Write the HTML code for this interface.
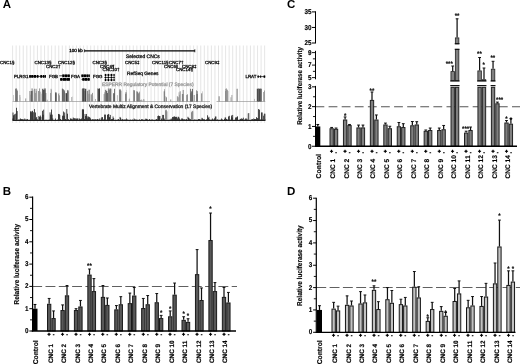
<!DOCTYPE html>
<html><head><meta charset="utf-8"><title>Figure</title>
<style>
html,body{margin:0;padding:0;background:#fff;}
body{width:520px;height:364px;overflow:hidden;font-family:"Liberation Sans",Arial,sans-serif;}
svg{display:block}
svg text{text-rendering:geometricPrecision;font-family:"Liberation Sans",Arial,sans-serif;}
</style></head><body>
<svg width="520" height="364" viewBox="0 0 520 364">
<rect x="0" y="0" width="520" height="364" fill="#ffffff"/>
<text x="2.8" y="194.9" font-size="11.5" font-weight="bold" text-anchor="start" fill="#000">B</text>
<text x="287" y="8.4" font-size="11.5" font-weight="bold" text-anchor="start" fill="#000">C</text>
<text x="287.1" y="194.8" font-size="11.5" font-weight="bold" text-anchor="start" fill="#000">D</text>
<text x="2.8" y="8.4" font-size="11.5" font-weight="bold" text-anchor="start" fill="#000">A</text>
<g id="panelA">
<line x1="12.6" y1="45.5" x2="12.6" y2="123" stroke="#d4d4d4" stroke-width="0.6"/>
<line x1="16.15" y1="45.5" x2="16.15" y2="123" stroke="#d4d4d4" stroke-width="0.6"/>
<line x1="19.7" y1="45.5" x2="19.7" y2="123" stroke="#d4d4d4" stroke-width="0.6"/>
<line x1="23.25" y1="45.5" x2="23.25" y2="123" stroke="#d4d4d4" stroke-width="0.6"/>
<line x1="26.8" y1="45.5" x2="26.8" y2="123" stroke="#d4d4d4" stroke-width="0.6"/>
<line x1="30.35" y1="45.5" x2="30.35" y2="123" stroke="#d4d4d4" stroke-width="0.6"/>
<line x1="33.9" y1="45.5" x2="33.9" y2="123" stroke="#d4d4d4" stroke-width="0.6"/>
<line x1="37.45" y1="45.5" x2="37.45" y2="123" stroke="#d4d4d4" stroke-width="0.6"/>
<line x1="41.0" y1="45.5" x2="41.0" y2="123" stroke="#d4d4d4" stroke-width="0.6"/>
<line x1="44.55" y1="45.5" x2="44.55" y2="123" stroke="#d4d4d4" stroke-width="0.6"/>
<line x1="48.1" y1="45.5" x2="48.1" y2="123" stroke="#d4d4d4" stroke-width="0.6"/>
<line x1="51.65" y1="45.5" x2="51.65" y2="123" stroke="#d4d4d4" stroke-width="0.6"/>
<line x1="55.2" y1="45.5" x2="55.2" y2="123" stroke="#d4d4d4" stroke-width="0.6"/>
<line x1="58.75" y1="45.5" x2="58.75" y2="123" stroke="#d4d4d4" stroke-width="0.6"/>
<line x1="62.3" y1="45.5" x2="62.3" y2="123" stroke="#d4d4d4" stroke-width="0.6"/>
<line x1="65.85" y1="45.5" x2="65.85" y2="123" stroke="#d4d4d4" stroke-width="0.6"/>
<line x1="69.4" y1="45.5" x2="69.4" y2="123" stroke="#d4d4d4" stroke-width="0.6"/>
<line x1="72.95" y1="45.5" x2="72.95" y2="123" stroke="#d4d4d4" stroke-width="0.6"/>
<line x1="76.5" y1="45.5" x2="76.5" y2="123" stroke="#d4d4d4" stroke-width="0.6"/>
<line x1="80.05" y1="45.5" x2="80.05" y2="123" stroke="#d4d4d4" stroke-width="0.6"/>
<line x1="83.6" y1="45.5" x2="83.6" y2="123" stroke="#d4d4d4" stroke-width="0.6"/>
<line x1="87.15" y1="45.5" x2="87.15" y2="123" stroke="#d4d4d4" stroke-width="0.6"/>
<line x1="90.7" y1="45.5" x2="90.7" y2="123" stroke="#d4d4d4" stroke-width="0.6"/>
<line x1="94.25" y1="45.5" x2="94.25" y2="123" stroke="#d4d4d4" stroke-width="0.6"/>
<line x1="97.8" y1="45.5" x2="97.8" y2="123" stroke="#d4d4d4" stroke-width="0.6"/>
<line x1="101.35" y1="45.5" x2="101.35" y2="123" stroke="#d4d4d4" stroke-width="0.6"/>
<line x1="104.9" y1="45.5" x2="104.9" y2="123" stroke="#d4d4d4" stroke-width="0.6"/>
<line x1="108.45" y1="45.5" x2="108.45" y2="123" stroke="#d4d4d4" stroke-width="0.6"/>
<line x1="112.0" y1="45.5" x2="112.0" y2="123" stroke="#d4d4d4" stroke-width="0.6"/>
<line x1="115.55" y1="45.5" x2="115.55" y2="123" stroke="#d4d4d4" stroke-width="0.6"/>
<line x1="119.1" y1="45.5" x2="119.1" y2="123" stroke="#d4d4d4" stroke-width="0.6"/>
<line x1="122.65" y1="45.5" x2="122.65" y2="123" stroke="#d4d4d4" stroke-width="0.6"/>
<line x1="126.2" y1="45.5" x2="126.2" y2="123" stroke="#d4d4d4" stroke-width="0.6"/>
<line x1="129.75" y1="45.5" x2="129.75" y2="123" stroke="#d4d4d4" stroke-width="0.6"/>
<line x1="133.3" y1="45.5" x2="133.3" y2="123" stroke="#d4d4d4" stroke-width="0.6"/>
<line x1="136.85" y1="45.5" x2="136.85" y2="123" stroke="#d4d4d4" stroke-width="0.6"/>
<line x1="140.4" y1="45.5" x2="140.4" y2="123" stroke="#d4d4d4" stroke-width="0.6"/>
<line x1="143.95" y1="45.5" x2="143.95" y2="123" stroke="#d4d4d4" stroke-width="0.6"/>
<line x1="147.5" y1="45.5" x2="147.5" y2="123" stroke="#d4d4d4" stroke-width="0.6"/>
<line x1="151.05" y1="45.5" x2="151.05" y2="123" stroke="#d4d4d4" stroke-width="0.6"/>
<line x1="154.6" y1="45.5" x2="154.6" y2="123" stroke="#d4d4d4" stroke-width="0.6"/>
<line x1="158.15" y1="45.5" x2="158.15" y2="123" stroke="#d4d4d4" stroke-width="0.6"/>
<line x1="161.7" y1="45.5" x2="161.7" y2="123" stroke="#d4d4d4" stroke-width="0.6"/>
<line x1="165.25" y1="45.5" x2="165.25" y2="123" stroke="#d4d4d4" stroke-width="0.6"/>
<line x1="168.8" y1="45.5" x2="168.8" y2="123" stroke="#d4d4d4" stroke-width="0.6"/>
<line x1="172.35" y1="45.5" x2="172.35" y2="123" stroke="#d4d4d4" stroke-width="0.6"/>
<line x1="175.9" y1="45.5" x2="175.9" y2="123" stroke="#d4d4d4" stroke-width="0.6"/>
<line x1="179.45" y1="45.5" x2="179.45" y2="123" stroke="#d4d4d4" stroke-width="0.6"/>
<line x1="183.0" y1="45.5" x2="183.0" y2="123" stroke="#d4d4d4" stroke-width="0.6"/>
<line x1="186.55" y1="45.5" x2="186.55" y2="123" stroke="#d4d4d4" stroke-width="0.6"/>
<line x1="190.1" y1="45.5" x2="190.1" y2="123" stroke="#d4d4d4" stroke-width="0.6"/>
<line x1="193.65" y1="45.5" x2="193.65" y2="123" stroke="#d4d4d4" stroke-width="0.6"/>
<line x1="197.2" y1="45.5" x2="197.2" y2="123" stroke="#d4d4d4" stroke-width="0.6"/>
<line x1="200.75" y1="45.5" x2="200.75" y2="123" stroke="#d4d4d4" stroke-width="0.6"/>
<line x1="204.3" y1="45.5" x2="204.3" y2="123" stroke="#d4d4d4" stroke-width="0.6"/>
<line x1="207.85" y1="45.5" x2="207.85" y2="123" stroke="#d4d4d4" stroke-width="0.6"/>
<line x1="211.4" y1="45.5" x2="211.4" y2="123" stroke="#d4d4d4" stroke-width="0.6"/>
<line x1="214.95" y1="45.5" x2="214.95" y2="123" stroke="#d4d4d4" stroke-width="0.6"/>
<line x1="218.5" y1="45.5" x2="218.5" y2="123" stroke="#d4d4d4" stroke-width="0.6"/>
<line x1="222.05" y1="45.5" x2="222.05" y2="123" stroke="#d4d4d4" stroke-width="0.6"/>
<line x1="225.6" y1="45.5" x2="225.6" y2="123" stroke="#d4d4d4" stroke-width="0.6"/>
<line x1="229.15" y1="45.5" x2="229.15" y2="123" stroke="#d4d4d4" stroke-width="0.6"/>
<line x1="232.7" y1="45.5" x2="232.7" y2="123" stroke="#d4d4d4" stroke-width="0.6"/>
<line x1="236.25" y1="45.5" x2="236.25" y2="123" stroke="#d4d4d4" stroke-width="0.6"/>
<line x1="239.8" y1="45.5" x2="239.8" y2="123" stroke="#d4d4d4" stroke-width="0.6"/>
<line x1="243.35" y1="45.5" x2="243.35" y2="123" stroke="#d4d4d4" stroke-width="0.6"/>
<line x1="246.9" y1="45.5" x2="246.9" y2="123" stroke="#d4d4d4" stroke-width="0.6"/>
<line x1="250.45" y1="45.5" x2="250.45" y2="123" stroke="#d4d4d4" stroke-width="0.6"/>
<line x1="254.0" y1="45.5" x2="254.0" y2="123" stroke="#d4d4d4" stroke-width="0.6"/>
<line x1="257.55" y1="45.5" x2="257.55" y2="123" stroke="#d4d4d4" stroke-width="0.6"/>
<line x1="261.1" y1="45.5" x2="261.1" y2="123" stroke="#d4d4d4" stroke-width="0.6"/>
<line x1="264.65" y1="45.5" x2="264.65" y2="123" stroke="#d4d4d4" stroke-width="0.6"/>
<text x="82.8" y="52.2" font-size="4.5" stroke="#000" stroke-width="0.3" text-anchor="end" fill="#000">100 kb</text>
<line x1="84.5" y1="50.8" x2="195" y2="50.8" stroke="#000" stroke-width="1.3"/>
<line x1="84.6" y1="49.3" x2="84.6" y2="52.3" stroke="#111" stroke-width="0.8"/>
<line x1="194.8" y1="49.3" x2="194.8" y2="52.3" stroke="#111" stroke-width="0.8"/>
<text x="126" y="57.6" font-size="4.95" stroke="#111" stroke-width="0.3" text-anchor="start" fill="#111">Selected CNCs</text>
<text x="0" y="63.6" font-size="4.4" stroke="#111" stroke-width="0.3" text-anchor="start" fill="#111">CNC1§</text>
<text x="34.5" y="63.6" font-size="4.4" stroke="#111" stroke-width="0.3" text-anchor="start" fill="#111">CNC13§</text>
<text x="58" y="63.6" font-size="4.4" stroke="#111" stroke-width="0.3" text-anchor="start" fill="#111">CNC12§</text>
<text x="92.5" y="63.6" font-size="4.4" stroke="#111" stroke-width="0.3" text-anchor="start" fill="#111">CNC3§</text>
<text x="125" y="63.6" font-size="4.4" stroke="#111" stroke-width="0.3" text-anchor="start" fill="#111">CNC5‡</text>
<text x="152" y="63.6" font-size="4.4" stroke="#111" stroke-width="0.3" text-anchor="start" fill="#111">CNC11§</text>
<text x="169" y="63.6" font-size="4.4" stroke="#111" stroke-width="0.3" text-anchor="start" fill="#111">CNC7†</text>
<text x="205" y="63.6" font-size="4.4" stroke="#111" stroke-width="0.3" text-anchor="start" fill="#111">CNC9‡</text>
<text x="46" y="67.6" font-size="4.4" stroke="#111" stroke-width="0.3" text-anchor="start" fill="#111">CNC2†</text>
<text x="100" y="67.6" font-size="4.4" stroke="#111" stroke-width="0.3" text-anchor="start" fill="#111">CNC4¶</text>
<text x="164" y="67.6" font-size="4.4" stroke="#111" stroke-width="0.3" text-anchor="start" fill="#111">CNC6‖</text>
<text x="182" y="67.6" font-size="4.4" stroke="#111" stroke-width="0.3" text-anchor="start" fill="#111">CNC8‡</text>
<text x="102.5" y="71" font-size="4.4" stroke="#111" stroke-width="0.3" text-anchor="start" fill="#111">CNC10†</text>
<text x="176" y="71" font-size="4.4" stroke="#111" stroke-width="0.3" text-anchor="start" fill="#111">CNC14¶</text>
<text x="127" y="74.8" font-size="4.8" stroke="#111" stroke-width="0.3" text-anchor="start" fill="#111">RefSeq Genes</text>
<text x="14" y="78" font-size="4.4" stroke="#111" stroke-width="0.3" text-anchor="start" fill="#111">PLRG1</text>
<text x="49" y="78" font-size="4.4" stroke="#111" stroke-width="0.3" text-anchor="start" fill="#111">FGB</text>
<text x="71" y="78" font-size="4.4" stroke="#111" stroke-width="0.3" text-anchor="start" fill="#111">FGA</text>
<text x="93" y="78" font-size="4.4" stroke="#111" stroke-width="0.3" text-anchor="start" fill="#111">FGG</text>
<text x="245.5" y="78" font-size="4.4" stroke="#111" stroke-width="0.3" text-anchor="start" fill="#111">LRAT</text>
<line x1="29.2" y1="76.4" x2="46" y2="76.4" stroke="#000" stroke-width="0.7"/>
<rect x="29.20" y="75.00" width="1.70" height="2.80" fill="#000"/>
<rect x="31.20" y="75.00" width="1.80" height="2.80" fill="#000"/>
<rect x="33.50" y="75.00" width="2.70" height="2.80" fill="#000"/>
<rect x="36.90" y="75.00" width="1.60" height="2.80" fill="#000"/>
<rect x="40.30" y="75.00" width="2.00" height="2.80" fill="#000"/>
<rect x="43.00" y="75.00" width="1.30" height="2.80" fill="#000"/>
<rect x="44.60" y="75.00" width="1.30" height="2.80" fill="#000"/>
<line x1="59.2" y1="75.8" x2="70" y2="75.8" stroke="#000" stroke-width="0.7"/>
<rect x="62.30" y="74.40" width="2.10" height="2.80" fill="#000"/>
<rect x="64.70" y="74.40" width="2.90" height="2.80" fill="#000"/>
<rect x="67.90" y="74.40" width="1.90" height="2.80" fill="#000"/>
<line x1="60" y1="79.4" x2="70" y2="79.4" stroke="#000" stroke-width="0.7"/>
<rect x="60.20" y="78.00" width="2.20" height="2.80" fill="#000"/>
<rect x="62.70" y="78.00" width="3.30" height="2.80" fill="#000"/>
<rect x="66.30" y="78.00" width="3.60" height="2.80" fill="#000"/>
<line x1="81.2" y1="75.8" x2="89.8" y2="75.8" stroke="#000" stroke-width="0.7"/>
<rect x="81.40" y="74.40" width="2.30" height="2.80" fill="#000"/>
<rect x="84.00" y="74.40" width="2.20" height="2.80" fill="#000"/>
<rect x="86.50" y="74.40" width="1.90" height="2.80" fill="#000"/>
<rect x="88.60" y="74.40" width="1.20" height="2.80" fill="#000"/>
<line x1="81.5" y1="79.4" x2="89.8" y2="79.4" stroke="#000" stroke-width="0.7"/>
<rect x="82.30" y="78.00" width="2.40" height="2.80" fill="#000"/>
<rect x="85.00" y="78.00" width="2.20" height="2.80" fill="#000"/>
<rect x="87.50" y="78.00" width="2.20" height="2.80" fill="#000"/>
<line x1="104.3" y1="75.0" x2="114.8" y2="75.0" stroke="#000" stroke-width="0.7"/>
<rect x="105.00" y="73.90" width="1.10" height="2.20" fill="#000"/>
<rect x="107.80" y="73.90" width="1.20" height="2.20" fill="#000"/>
<rect x="110.80" y="73.90" width="1.20" height="2.20" fill="#000"/>
<rect x="113.60" y="73.90" width="1.00" height="2.20" fill="#000"/>
<line x1="104.3" y1="77.5" x2="114.8" y2="77.5" stroke="#000" stroke-width="0.7"/>
<rect x="105.00" y="76.40" width="1.10" height="2.20" fill="#000"/>
<rect x="107.80" y="76.40" width="1.20" height="2.20" fill="#000"/>
<rect x="110.80" y="76.40" width="1.20" height="2.20" fill="#000"/>
<rect x="113.60" y="76.40" width="1.00" height="2.20" fill="#000"/>
<line x1="104.3" y1="80.0" x2="114.8" y2="80.0" stroke="#000" stroke-width="0.7"/>
<rect x="105.00" y="78.90" width="1.10" height="2.20" fill="#000"/>
<rect x="107.80" y="78.90" width="1.20" height="2.20" fill="#000"/>
<rect x="110.80" y="78.90" width="1.20" height="2.20" fill="#000"/>
<rect x="113.60" y="78.90" width="1.00" height="2.20" fill="#000"/>
<line x1="257.3" y1="76.6" x2="265.2" y2="76.6" stroke="#000" stroke-width="0.7"/>
<rect x="257.60" y="75.40" width="1.20" height="2.40" fill="#000"/>
<rect x="260.20" y="75.40" width="0.90" height="2.40" fill="#000"/>
<rect x="263.60" y="75.40" width="1.60" height="2.40" fill="#000"/>
<text x="102" y="85.6" font-size="4.9" stroke="#9a9a9a" stroke-width="0.3" text-anchor="start" fill="#9a9a9a">ESPERR Regulatory Potential (7 Species)</text>
<text x="89" y="107.8" font-size="4.9" stroke="#222" stroke-width="0.3" text-anchor="start" fill="#222">Vertebrate Multiz Alignment &amp; Conservation (17 Species)</text>
<line x1="12.6" y1="101.5" x2="210" y2="101.5" stroke="#8a8a8a" stroke-width="0.6"/>
<line x1="216.5" y1="101.5" x2="265.3" y2="101.5" stroke="#8a8a8a" stroke-width="0.6"/>
<rect x="13.10" y="94.95" width="0.70" height="6.55" fill="#bebebe"/>
<rect x="13.80" y="94.95" width="0.20" height="6.55" fill="#b6b6b6"/>
<rect x="15.25" y="88.79" width="0.50" height="12.71" fill="#333333"/>
<rect x="15.75" y="88.40" width="0.90" height="13.10" fill="#505050"/>
<rect x="16.65" y="89.71" width="0.70" height="11.79" fill="#4f4f4f"/>
<rect x="17.35" y="91.02" width="0.40" height="10.48" fill="#3b3b3b"/>
<rect x="19.40" y="94.95" width="0.90" height="6.55" fill="#9b9b9b"/>
<rect x="20.30" y="97.24" width="0.30" height="4.26" fill="#a4a4a4"/>
<rect x="25.00" y="98.88" width="0.50" height="2.62" fill="#8d8d8d"/>
<rect x="25.50" y="98.22" width="0.50" height="3.27" fill="#9d9d9d"/>
<rect x="26.00" y="98.32" width="0.20" height="3.18" fill="#929292"/>
<rect x="29.40" y="91.02" width="0.90" height="10.48" fill="#8e8e8e"/>
<rect x="30.30" y="94.69" width="0.50" height="6.81" fill="#999999"/>
<rect x="30.80" y="91.02" width="0.90" height="10.48" fill="#3b3b3b"/>
<rect x="31.70" y="88.40" width="0.70" height="13.10" fill="#404040"/>
<rect x="32.40" y="91.02" width="0.50" height="10.48" fill="#595959"/>
<rect x="32.90" y="89.71" width="0.20" height="11.79" fill="#393939"/>
<rect x="34.00" y="88.79" width="0.70" height="12.71" fill="#7b7b7b"/>
<rect x="34.70" y="88.79" width="0.70" height="12.71" fill="#818181"/>
<rect x="35.40" y="92.98" width="0.50" height="8.52" fill="#6f6f6f"/>
<rect x="35.90" y="91.02" width="0.50" height="10.48" fill="#818181"/>
<rect x="36.40" y="88.79" width="0.50" height="12.71" fill="#717171"/>
<rect x="38.10" y="91.02" width="0.70" height="10.48" fill="#757575"/>
<rect x="38.80" y="91.02" width="0.50" height="10.48" fill="#878787"/>
<rect x="39.30" y="88.40" width="0.70" height="13.10" fill="#767676"/>
<rect x="40.40" y="91.67" width="0.70" height="9.82" fill="#9b9b9b"/>
<rect x="41.10" y="93.64" width="0.50" height="7.86" fill="#a4a4a4"/>
<rect x="42.20" y="88.79" width="0.70" height="12.71" fill="#2c2c2c"/>
<rect x="42.90" y="89.71" width="0.90" height="11.79" fill="#333333"/>
<rect x="43.80" y="88.40" width="0.70" height="13.10" fill="#242424"/>
<rect x="44.50" y="89.71" width="0.70" height="11.79" fill="#2c2c2c"/>
<rect x="45.20" y="88.40" width="0.50" height="13.10" fill="#2a2a2a"/>
<rect x="45.70" y="92.98" width="0.50" height="8.52" fill="#333333"/>
<rect x="46.80" y="99.73" width="0.80" height="1.77" fill="#969696"/>
<rect x="50.00" y="92.98" width="0.70" height="8.52" fill="#7f7f7f"/>
<rect x="50.70" y="88.79" width="0.70" height="12.71" fill="#868686"/>
<rect x="51.40" y="89.71" width="0.50" height="11.79" fill="#8a8a8a"/>
<rect x="55.00" y="92.33" width="0.70" height="9.17" fill="#363636"/>
<rect x="55.70" y="93.25" width="0.70" height="8.25" fill="#2d2d2d"/>
<rect x="56.40" y="92.33" width="0.50" height="9.17" fill="#535353"/>
<rect x="58.00" y="93.95" width="0.70" height="7.55" fill="#8c8c8c"/>
<rect x="58.70" y="93.01" width="0.50" height="8.49" fill="#787878"/>
<rect x="59.20" y="95.37" width="0.70" height="6.13" fill="#878787"/>
<rect x="59.90" y="95.37" width="0.10" height="6.13" fill="#787878"/>
<rect x="61.90" y="88.66" width="0.50" height="12.84" fill="#4e4e4e"/>
<rect x="62.40" y="88.66" width="0.50" height="12.84" fill="#2e2e2e"/>
<rect x="62.90" y="89.95" width="0.50" height="11.55" fill="#252525"/>
<rect x="63.40" y="89.05" width="0.50" height="12.45" fill="#434343"/>
<rect x="63.90" y="89.95" width="0.50" height="11.55" fill="#353535"/>
<rect x="64.40" y="91.23" width="0.60" height="10.27" fill="#414141"/>
<rect x="65.60" y="93.16" width="0.50" height="8.34" fill="#232323"/>
<rect x="66.10" y="93.16" width="0.90" height="8.34" fill="#2d2d2d"/>
<rect x="67.00" y="89.95" width="0.50" height="11.55" fill="#212121"/>
<rect x="67.50" y="91.23" width="0.90" height="10.27" fill="#3d3d3d"/>
<rect x="68.40" y="89.95" width="0.35" height="11.55" fill="#4d4d4d"/>
<rect x="71.20" y="97.02" width="0.90" height="4.48" fill="#b0b0b0"/>
<rect x="72.10" y="96.52" width="0.40" height="4.98" fill="#a7a7a7"/>
<rect x="81.90" y="88.79" width="0.50" height="12.71" fill="#323232"/>
<rect x="82.40" y="88.40" width="0.50" height="13.10" fill="#333333"/>
<rect x="82.90" y="88.40" width="0.90" height="13.10" fill="#1e1e1e"/>
<rect x="83.80" y="88.40" width="0.90" height="13.10" fill="#4f4f4f"/>
<rect x="84.70" y="91.02" width="0.50" height="10.48" fill="#3e3e3e"/>
<rect x="85.20" y="88.79" width="0.90" height="12.71" fill="#1e1e1e"/>
<rect x="86.10" y="88.79" width="0.15" height="12.71" fill="#383838"/>
<rect x="86.90" y="90.89" width="0.50" height="10.61" fill="#5b5b5b"/>
<rect x="87.40" y="90.89" width="0.70" height="10.61" fill="#6f6f6f"/>
<rect x="88.10" y="89.71" width="0.50" height="11.79" fill="#7e7e7e"/>
<rect x="88.60" y="93.84" width="0.70" height="7.66" fill="#787878"/>
<rect x="89.30" y="89.71" width="0.70" height="11.79" fill="#6e6e6e"/>
<rect x="90.60" y="94.37" width="0.50" height="7.13" fill="#9f9f9f"/>
<rect x="91.10" y="94.37" width="0.90" height="7.13" fill="#8f8f8f"/>
<rect x="92.00" y="92.86" width="0.90" height="8.64" fill="#8e8e8e"/>
<rect x="92.90" y="95.71" width="0.20" height="5.79" fill="#919191"/>
<rect x="95.00" y="98.96" width="0.60" height="2.54" fill="#838383"/>
<rect x="97.50" y="88.40" width="0.70" height="13.10" fill="#353535"/>
<rect x="98.20" y="88.79" width="0.90" height="12.71" fill="#303030"/>
<rect x="99.10" y="88.40" width="0.90" height="13.10" fill="#262626"/>
<rect x="103.75" y="94.01" width="0.70" height="7.49" fill="#6e6e6e"/>
<rect x="104.45" y="92.28" width="0.50" height="9.22" fill="#7a7a7a"/>
<rect x="104.95" y="89.97" width="0.65" height="11.53" fill="#686868"/>
<rect x="105.60" y="89.71" width="0.70" height="11.79" fill="#595959"/>
<rect x="106.30" y="91.02" width="0.90" height="10.48" fill="#373737"/>
<rect x="107.20" y="92.98" width="0.70" height="8.52" fill="#353535"/>
<rect x="107.90" y="88.40" width="0.70" height="13.10" fill="#5b5b5b"/>
<rect x="108.60" y="89.71" width="0.50" height="11.79" fill="#5c5c5c"/>
<rect x="109.10" y="89.71" width="0.50" height="11.79" fill="#474747"/>
<rect x="109.60" y="88.40" width="0.90" height="13.10" fill="#4e4e4e"/>
<rect x="110.50" y="88.79" width="0.75" height="12.71" fill="#3f3f3f"/>
<rect x="113.10" y="93.24" width="0.50" height="8.26" fill="#4c4c4c"/>
<rect x="113.60" y="93.24" width="0.70" height="8.26" fill="#292929"/>
<rect x="114.30" y="88.79" width="0.70" height="12.71" fill="#3b3b3b"/>
<rect x="116.90" y="95.15" width="0.90" height="6.35" fill="#bababa"/>
<rect x="117.80" y="95.61" width="0.20" height="5.89" fill="#b2b2b2"/>
<rect x="119.40" y="89.45" width="0.90" height="12.05" fill="#373737"/>
<rect x="120.30" y="89.45" width="0.50" height="12.05" fill="#5b5b5b"/>
<rect x="120.80" y="90.65" width="0.45" height="10.85" fill="#323232"/>
<rect x="125.00" y="92.28" width="0.50" height="9.22" fill="#626262"/>
<rect x="125.50" y="94.01" width="0.70" height="7.49" fill="#5d5d5d"/>
<rect x="126.20" y="92.28" width="0.50" height="9.22" fill="#6d6d6d"/>
<rect x="126.70" y="89.97" width="0.20" height="11.53" fill="#636363"/>
<rect x="128.80" y="99.12" width="0.90" height="2.38" fill="#9c9c9c"/>
<rect x="129.70" y="97.83" width="0.30" height="3.67" fill="#929292"/>
<rect x="133.10" y="89.97" width="0.50" height="11.53" fill="#818181"/>
<rect x="133.60" y="90.32" width="0.50" height="11.18" fill="#6e6e6e"/>
<rect x="134.10" y="90.32" width="0.90" height="11.18" fill="#787878"/>
<rect x="136.25" y="91.28" width="0.70" height="10.22" fill="#8a8a8a"/>
<rect x="136.95" y="91.59" width="0.90" height="9.91" fill="#6b6b6b"/>
<rect x="137.85" y="93.33" width="0.90" height="8.17" fill="#6e6e6e"/>
<rect x="138.75" y="92.30" width="0.90" height="9.20" fill="#6e6e6e"/>
<rect x="139.65" y="91.28" width="0.35" height="10.22" fill="#787878"/>
<rect x="140.00" y="100.03" width="0.90" height="1.47" fill="#9e9e9e"/>
<rect x="140.90" y="99.67" width="0.70" height="1.83" fill="#8c8c8c"/>
<rect x="141.60" y="99.67" width="0.50" height="1.83" fill="#9b9b9b"/>
<rect x="142.10" y="100.31" width="0.40" height="1.19" fill="#9b9b9b"/>
<rect x="143.20" y="98.96" width="0.50" height="2.54" fill="#8a8a8a"/>
<rect x="143.70" y="99.40" width="0.70" height="2.10" fill="#909090"/>
<rect x="163.75" y="91.33" width="0.50" height="10.17" fill="#595959"/>
<rect x="164.25" y="89.17" width="0.50" height="12.33" fill="#5a5a5a"/>
<rect x="164.75" y="91.33" width="0.25" height="10.17" fill="#454545"/>
<rect x="165.60" y="96.26" width="0.50" height="5.24" fill="#7c7c7c"/>
<rect x="166.10" y="97.31" width="0.80" height="4.19" fill="#767676"/>
<rect x="170.00" y="99.80" width="0.50" height="1.70" fill="#969696"/>
<rect x="170.50" y="99.40" width="0.70" height="2.10" fill="#868686"/>
<rect x="176.90" y="96.26" width="0.90" height="5.24" fill="#8a8a8a"/>
<rect x="177.80" y="97.31" width="0.70" height="4.19" fill="#848484"/>
<rect x="178.50" y="96.78" width="0.20" height="4.72" fill="#9b9b9b"/>
<rect x="178.75" y="92.30" width="0.50" height="9.20" fill="#7c7c7c"/>
<rect x="179.25" y="94.86" width="0.50" height="6.64" fill="#838383"/>
<rect x="179.75" y="91.28" width="0.50" height="10.22" fill="#737373"/>
<rect x="180.25" y="91.28" width="0.35" height="10.22" fill="#6a6a6a"/>
<rect x="181.90" y="94.01" width="0.90" height="7.49" fill="#747474"/>
<rect x="182.80" y="89.97" width="0.70" height="11.53" fill="#5c5c5c"/>
<rect x="183.50" y="94.01" width="0.25" height="7.49" fill="#5d5d5d"/>
<rect x="186.25" y="95.02" width="0.70" height="6.48" fill="#868686"/>
<rect x="186.95" y="94.30" width="0.90" height="7.21" fill="#868686"/>
<rect x="187.85" y="95.74" width="0.15" height="5.76" fill="#7d7d7d"/>
<rect x="190.00" y="88.79" width="0.70" height="12.71" fill="#4a4a4a"/>
<rect x="190.70" y="93.24" width="0.50" height="8.26" fill="#494949"/>
<rect x="191.20" y="91.33" width="0.70" height="10.17" fill="#444444"/>
<rect x="191.90" y="88.79" width="0.90" height="12.71" fill="#484848"/>
<rect x="192.80" y="91.33" width="0.20" height="10.17" fill="#4d4d4d"/>
<rect x="193.70" y="94.95" width="0.50" height="6.55" fill="#818181"/>
<rect x="194.20" y="94.95" width="0.50" height="6.55" fill="#9c9c9c"/>
<rect x="194.70" y="94.95" width="0.30" height="6.55" fill="#838383"/>
<rect x="196.25" y="90.32" width="0.50" height="11.18" fill="#353535"/>
<rect x="196.75" y="94.01" width="0.70" height="7.49" fill="#323232"/>
<rect x="197.45" y="91.12" width="0.55" height="10.38" fill="#545454"/>
<rect x="201.25" y="93.33" width="0.90" height="8.17" fill="#7a7a7a"/>
<rect x="202.15" y="91.28" width="0.35" height="10.22" fill="#828282"/>
<rect x="218.40" y="96.26" width="0.90" height="5.24" fill="#9d9d9d"/>
<rect x="219.30" y="96.42" width="0.50" height="5.08" fill="#8f8f8f"/>
<rect x="219.80" y="96.26" width="0.20" height="5.24" fill="#939393"/>
<rect x="225.00" y="91.02" width="0.50" height="10.48" fill="#6d6d6d"/>
<rect x="225.50" y="88.79" width="0.50" height="12.71" fill="#6c6c6c"/>
<rect x="226.00" y="88.40" width="0.70" height="13.10" fill="#7f7f7f"/>
<rect x="226.70" y="89.71" width="0.90" height="11.79" fill="#6a6a6a"/>
<rect x="227.60" y="91.02" width="0.70" height="10.48" fill="#878787"/>
<rect x="230.50" y="97.24" width="0.90" height="4.26" fill="#a2a2a2"/>
<rect x="231.40" y="94.95" width="0.50" height="6.55" fill="#a1a1a1"/>
<rect x="231.90" y="94.95" width="0.40" height="6.55" fill="#8f8f8f"/>
<rect x="236.60" y="88.79" width="0.90" height="12.71" fill="#787878"/>
<rect x="237.50" y="88.79" width="0.30" height="12.71" fill="#7c7c7c"/>
<rect x="254.20" y="98.88" width="0.60" height="2.62" fill="#979797"/>
<rect x="256.80" y="88.70" width="4.90" height="12.80" fill="#4a4a4a"/>
<rect x="258.00" y="88.70" width="0.80" height="12.80" fill="#6a6a6a"/>
<rect x="260.00" y="88.70" width="0.60" height="12.80" fill="#707070"/>
<rect x="263.00" y="92.00" width="0.80" height="9.50" fill="#999"/>
<rect x="264.00" y="90.50" width="0.80" height="11.00" fill="#888"/>
<rect x="12.60" y="118.50" width="0.70" height="1.80" fill="#000"/>
<rect x="13.30" y="115.25" width="0.70" height="5.05" fill="#000000"/>
<rect x="14.00" y="114.36" width="0.70" height="5.94" fill="#000000"/>
<rect x="14.70" y="119.90" width="0.70" height="0.40" fill="#000"/>
<rect x="15.40" y="113.70" width="0.70" height="6.60" fill="#000000"/>
<rect x="16.10" y="107.76" width="0.70" height="12.54" fill="#000000"/>
<rect x="16.80" y="111.06" width="0.70" height="9.24" fill="#000000"/>
<rect x="17.50" y="119.80" width="0.70" height="0.50" fill="#000"/>
<rect x="18.20" y="119.50" width="0.70" height="0.80" fill="#000"/>
<rect x="18.90" y="119.90" width="0.70" height="0.40" fill="#000"/>
<rect x="19.60" y="119.00" width="0.70" height="1.30" fill="#000"/>
<rect x="20.30" y="118.50" width="0.70" height="1.80" fill="#000"/>
<rect x="21.00" y="119.00" width="0.70" height="1.30" fill="#000"/>
<rect x="21.70" y="119.50" width="0.70" height="0.80" fill="#000"/>
<rect x="22.40" y="119.00" width="0.70" height="1.30" fill="#000"/>
<rect x="23.10" y="119.50" width="0.70" height="0.80" fill="#000"/>
<rect x="23.80" y="119.30" width="0.70" height="1.00" fill="#000"/>
<rect x="24.50" y="118.50" width="0.70" height="1.80" fill="#000"/>
<rect x="25.20" y="119.50" width="0.70" height="0.80" fill="#000"/>
<rect x="25.90" y="119.30" width="0.70" height="1.00" fill="#000"/>
<rect x="26.60" y="119.70" width="0.70" height="0.60" fill="#000"/>
<rect x="27.30" y="119.00" width="0.70" height="1.30" fill="#000"/>
<rect x="28.00" y="119.80" width="0.70" height="0.50" fill="#000"/>
<rect x="28.70" y="119.80" width="0.70" height="0.50" fill="#000"/>
<rect x="29.40" y="119.70" width="0.70" height="0.60" fill="#000"/>
<rect x="30.10" y="111.27" width="0.70" height="9.03" fill="#000000"/>
<rect x="30.80" y="112.22" width="0.70" height="8.08" fill="#000000"/>
<rect x="31.50" y="111.27" width="0.70" height="9.03" fill="#000000"/>
<rect x="32.20" y="110.80" width="0.70" height="9.50" fill="#000000"/>
<rect x="32.90" y="112.22" width="0.70" height="8.08" fill="#000000"/>
<rect x="33.60" y="119.50" width="0.70" height="0.80" fill="#000"/>
<rect x="34.30" y="109.08" width="0.70" height="11.22" fill="#000000"/>
<rect x="35.00" y="112.45" width="0.70" height="7.85" fill="#000000"/>
<rect x="35.70" y="118.32" width="0.70" height="1.98" fill="#000000"/>
<rect x="36.40" y="116.93" width="0.70" height="3.37" fill="#000000"/>
<rect x="37.10" y="119.30" width="0.70" height="1.00" fill="#000"/>
<rect x="37.80" y="119.80" width="0.70" height="0.50" fill="#000"/>
<rect x="38.50" y="116.04" width="0.70" height="4.26" fill="#000000"/>
<rect x="39.20" y="116.79" width="0.70" height="3.51" fill="#000000"/>
<rect x="39.90" y="115.53" width="0.70" height="4.77" fill="#000000"/>
<rect x="40.60" y="116.79" width="0.70" height="3.51" fill="#000000"/>
<rect x="41.30" y="119.90" width="0.70" height="0.40" fill="#000"/>
<rect x="42.00" y="110.76" width="0.70" height="9.54" fill="#000000"/>
<rect x="42.70" y="114.69" width="0.70" height="5.61" fill="#000000"/>
<rect x="43.40" y="109.64" width="0.70" height="10.66" fill="#000000"/>
<rect x="44.10" y="119.90" width="0.70" height="0.40" fill="#000"/>
<rect x="44.80" y="119.70" width="0.70" height="0.60" fill="#000"/>
<rect x="45.50" y="119.80" width="0.70" height="0.50" fill="#000"/>
<rect x="46.20" y="119.70" width="0.70" height="0.60" fill="#000"/>
<rect x="46.90" y="119.80" width="0.70" height="0.50" fill="#000"/>
<rect x="47.60" y="119.90" width="0.70" height="0.40" fill="#000"/>
<rect x="48.30" y="119.70" width="0.70" height="0.60" fill="#000"/>
<rect x="49.00" y="119.50" width="0.70" height="0.80" fill="#000"/>
<rect x="49.70" y="112.35" width="0.70" height="7.95" fill="#000000"/>
<rect x="50.40" y="114.62" width="0.70" height="5.68" fill="#000000"/>
<rect x="51.10" y="109.52" width="0.70" height="10.78" fill="#000000"/>
<rect x="51.80" y="114.62" width="0.70" height="5.68" fill="#000000"/>
<rect x="52.50" y="118.50" width="0.70" height="1.80" fill="#000"/>
<rect x="53.20" y="119.90" width="0.70" height="0.40" fill="#000"/>
<rect x="53.90" y="119.90" width="0.70" height="0.40" fill="#000"/>
<rect x="54.60" y="119.70" width="0.70" height="0.60" fill="#000"/>
<rect x="55.30" y="118.50" width="0.70" height="1.80" fill="#000"/>
<rect x="56.00" y="119.90" width="0.70" height="0.40" fill="#000"/>
<rect x="56.70" y="119.80" width="0.70" height="0.50" fill="#000"/>
<rect x="57.40" y="119.50" width="0.70" height="0.80" fill="#000"/>
<rect x="58.10" y="113.96" width="0.70" height="6.34" fill="#000000"/>
<rect x="58.80" y="113.96" width="0.70" height="6.34" fill="#000000"/>
<rect x="59.50" y="114.91" width="0.70" height="5.39" fill="#000000"/>
<rect x="60.20" y="119.00" width="0.70" height="1.30" fill="#000"/>
<rect x="60.90" y="119.80" width="0.70" height="0.50" fill="#000"/>
<rect x="61.60" y="119.90" width="0.70" height="0.40" fill="#000"/>
<rect x="62.30" y="115.68" width="0.70" height="4.62" fill="#000000"/>
<rect x="63.00" y="111.52" width="0.70" height="8.78" fill="#000000"/>
<rect x="63.70" y="115.68" width="0.70" height="4.62" fill="#000000"/>
<rect x="64.40" y="112.45" width="0.70" height="7.85" fill="#000000"/>
<rect x="65.10" y="119.00" width="0.70" height="1.30" fill="#000"/>
<rect x="65.80" y="119.50" width="0.70" height="0.80" fill="#000"/>
<rect x="66.50" y="109.08" width="0.70" height="11.22" fill="#000000"/>
<rect x="67.20" y="113.70" width="0.70" height="6.60" fill="#000000"/>
<rect x="67.90" y="119.00" width="0.70" height="1.30" fill="#000"/>
<rect x="68.60" y="119.80" width="0.70" height="0.50" fill="#000"/>
<rect x="69.30" y="119.90" width="0.70" height="0.40" fill="#000"/>
<rect x="70.00" y="118.50" width="0.70" height="1.80" fill="#000"/>
<rect x="70.70" y="118.50" width="0.70" height="1.80" fill="#000"/>
<rect x="71.40" y="119.00" width="0.70" height="1.30" fill="#000"/>
<rect x="72.10" y="119.30" width="0.70" height="1.00" fill="#000"/>
<rect x="72.80" y="117.53" width="0.70" height="2.77" fill="#000000"/>
<rect x="73.50" y="118.32" width="0.70" height="1.98" fill="#000000"/>
<rect x="74.20" y="118.32" width="0.70" height="1.98" fill="#000000"/>
<rect x="74.90" y="118.32" width="0.70" height="1.98" fill="#000000"/>
<rect x="75.60" y="119.30" width="0.70" height="1.00" fill="#000"/>
<rect x="76.30" y="118.50" width="0.70" height="1.80" fill="#000"/>
<rect x="77.00" y="118.50" width="0.70" height="1.80" fill="#000"/>
<rect x="77.70" y="118.50" width="0.70" height="1.80" fill="#000"/>
<rect x="78.40" y="119.90" width="0.70" height="0.40" fill="#000"/>
<rect x="79.10" y="118.50" width="0.70" height="1.80" fill="#000"/>
<rect x="79.80" y="119.00" width="0.70" height="1.30" fill="#000"/>
<rect x="80.50" y="119.30" width="0.70" height="1.00" fill="#000"/>
<rect x="81.20" y="118.50" width="0.70" height="1.80" fill="#000"/>
<rect x="81.90" y="109.52" width="0.70" height="10.78" fill="#000000"/>
<rect x="82.60" y="108.95" width="0.70" height="11.35" fill="#000000"/>
<rect x="83.30" y="109.52" width="0.70" height="10.78" fill="#000000"/>
<rect x="84.00" y="119.00" width="0.70" height="1.30" fill="#000"/>
<rect x="84.70" y="113.96" width="0.70" height="6.34" fill="#000000"/>
<rect x="85.40" y="115.86" width="0.70" height="4.44" fill="#000000"/>
<rect x="86.10" y="113.96" width="0.70" height="6.34" fill="#000000"/>
<rect x="86.80" y="116.34" width="0.70" height="3.96" fill="#000000"/>
<rect x="87.50" y="118.32" width="0.70" height="1.98" fill="#000000"/>
<rect x="88.20" y="116.54" width="0.70" height="3.76" fill="#000000"/>
<rect x="88.90" y="116.93" width="0.70" height="3.37" fill="#000000"/>
<rect x="89.60" y="117.53" width="0.70" height="2.77" fill="#000000"/>
<rect x="90.30" y="118.50" width="0.70" height="1.80" fill="#000"/>
<rect x="91.00" y="119.90" width="0.70" height="0.40" fill="#000"/>
<rect x="91.70" y="119.00" width="0.70" height="1.30" fill="#000"/>
<rect x="92.40" y="119.30" width="0.70" height="1.00" fill="#000"/>
<rect x="93.10" y="119.30" width="0.70" height="1.00" fill="#000"/>
<rect x="93.80" y="119.90" width="0.70" height="0.40" fill="#000"/>
<rect x="94.50" y="119.00" width="0.70" height="1.30" fill="#000"/>
<rect x="95.20" y="119.30" width="0.70" height="1.00" fill="#000"/>
<rect x="95.90" y="119.90" width="0.70" height="0.40" fill="#000"/>
<rect x="96.60" y="119.00" width="0.70" height="1.30" fill="#000"/>
<rect x="97.30" y="119.00" width="0.70" height="1.30" fill="#000"/>
<rect x="98.00" y="119.50" width="0.70" height="0.80" fill="#000"/>
<rect x="98.70" y="119.70" width="0.70" height="0.60" fill="#000"/>
<rect x="99.40" y="118.50" width="0.70" height="1.80" fill="#000"/>
<rect x="100.10" y="119.90" width="0.70" height="0.40" fill="#000"/>
<rect x="100.80" y="118.50" width="0.70" height="1.80" fill="#000"/>
<rect x="101.50" y="117.16" width="0.70" height="3.13" fill="#000000"/>
<rect x="102.20" y="117.16" width="0.70" height="3.13" fill="#000000"/>
<rect x="102.90" y="119.80" width="0.70" height="0.50" fill="#000"/>
<rect x="103.60" y="119.00" width="0.70" height="1.30" fill="#000"/>
<rect x="104.30" y="114.57" width="0.70" height="5.73" fill="#000000"/>
<rect x="105.00" y="114.57" width="0.70" height="5.73" fill="#000000"/>
<rect x="105.70" y="119.90" width="0.70" height="0.40" fill="#000"/>
<rect x="106.40" y="119.50" width="0.70" height="0.80" fill="#000"/>
<rect x="107.10" y="114.91" width="0.70" height="5.39" fill="#000000"/>
<rect x="107.80" y="113.96" width="0.70" height="6.34" fill="#000000"/>
<rect x="108.50" y="114.28" width="0.70" height="6.02" fill="#000000"/>
<rect x="109.20" y="117.13" width="0.70" height="3.17" fill="#000000"/>
<rect x="109.90" y="114.91" width="0.70" height="5.39" fill="#000000"/>
<rect x="110.60" y="119.70" width="0.70" height="0.60" fill="#000"/>
<rect x="111.30" y="119.00" width="0.70" height="1.30" fill="#000"/>
<rect x="112.00" y="119.00" width="0.70" height="1.30" fill="#000"/>
<rect x="112.70" y="116.49" width="0.70" height="3.81" fill="#000000"/>
<rect x="113.40" y="118.06" width="0.70" height="2.24" fill="#000000"/>
<rect x="114.10" y="119.80" width="0.70" height="0.50" fill="#000"/>
<rect x="114.80" y="119.90" width="0.70" height="0.40" fill="#000"/>
<rect x="115.50" y="119.50" width="0.70" height="0.80" fill="#000"/>
<rect x="116.20" y="119.90" width="0.70" height="0.40" fill="#000"/>
<rect x="116.90" y="119.50" width="0.70" height="0.80" fill="#000"/>
<rect x="117.60" y="119.70" width="0.70" height="0.60" fill="#000"/>
<rect x="118.30" y="119.00" width="0.70" height="1.30" fill="#000"/>
<rect x="119.00" y="119.90" width="0.70" height="0.40" fill="#000"/>
<rect x="119.70" y="116.91" width="0.70" height="3.39" fill="#000000"/>
<rect x="120.40" y="117.81" width="0.70" height="2.49" fill="#000000"/>
<rect x="121.10" y="119.70" width="0.70" height="0.60" fill="#000"/>
<rect x="121.80" y="119.00" width="0.70" height="1.30" fill="#000"/>
<rect x="122.50" y="119.30" width="0.70" height="1.00" fill="#000"/>
<rect x="123.20" y="119.70" width="0.70" height="0.60" fill="#000"/>
<rect x="123.90" y="119.50" width="0.70" height="0.80" fill="#000"/>
<rect x="124.60" y="119.50" width="0.70" height="0.80" fill="#000"/>
<rect x="125.30" y="119.50" width="0.70" height="0.80" fill="#000"/>
<rect x="126.00" y="118.50" width="0.70" height="1.80" fill="#000"/>
<rect x="126.70" y="119.90" width="0.70" height="0.40" fill="#000"/>
<rect x="127.40" y="119.30" width="0.70" height="1.00" fill="#000"/>
<rect x="128.10" y="119.80" width="0.70" height="0.50" fill="#000"/>
<rect x="128.80" y="119.70" width="0.70" height="0.60" fill="#000"/>
<rect x="129.50" y="119.90" width="0.70" height="0.40" fill="#000"/>
<rect x="130.20" y="119.50" width="0.70" height="0.80" fill="#000"/>
<rect x="130.90" y="119.90" width="0.70" height="0.40" fill="#000"/>
<rect x="131.60" y="119.70" width="0.70" height="0.60" fill="#000"/>
<rect x="132.30" y="119.50" width="0.70" height="0.80" fill="#000"/>
<rect x="133.00" y="119.90" width="0.70" height="0.40" fill="#000"/>
<rect x="133.70" y="118.50" width="0.70" height="1.80" fill="#000"/>
<rect x="134.40" y="119.30" width="0.70" height="1.00" fill="#000"/>
<rect x="135.10" y="119.50" width="0.70" height="0.80" fill="#000"/>
<rect x="135.80" y="119.70" width="0.70" height="0.60" fill="#000"/>
<rect x="136.50" y="119.50" width="0.70" height="0.80" fill="#000"/>
<rect x="137.20" y="119.80" width="0.70" height="0.50" fill="#000"/>
<rect x="137.90" y="119.80" width="0.70" height="0.50" fill="#000"/>
<rect x="138.60" y="119.90" width="0.70" height="0.40" fill="#000"/>
<rect x="139.30" y="119.30" width="0.70" height="1.00" fill="#000"/>
<rect x="140.00" y="119.90" width="0.70" height="0.40" fill="#000"/>
<rect x="140.70" y="119.80" width="0.70" height="0.50" fill="#000"/>
<rect x="141.40" y="119.00" width="0.70" height="1.30" fill="#000"/>
<rect x="142.10" y="119.30" width="0.70" height="1.00" fill="#000"/>
<rect x="142.80" y="119.70" width="0.70" height="0.60" fill="#000"/>
<rect x="143.50" y="119.70" width="0.70" height="0.60" fill="#000"/>
<rect x="144.20" y="119.80" width="0.70" height="0.50" fill="#000"/>
<rect x="144.90" y="119.30" width="0.70" height="1.00" fill="#000"/>
<rect x="145.60" y="118.50" width="0.70" height="1.80" fill="#000"/>
<rect x="146.30" y="119.00" width="0.70" height="1.30" fill="#000"/>
<rect x="147.00" y="119.30" width="0.70" height="1.00" fill="#000"/>
<rect x="147.70" y="119.70" width="0.70" height="0.60" fill="#000"/>
<rect x="148.40" y="119.90" width="0.70" height="0.40" fill="#000"/>
<rect x="149.10" y="119.00" width="0.70" height="1.30" fill="#000"/>
<rect x="149.80" y="119.70" width="0.70" height="0.60" fill="#000"/>
<rect x="150.50" y="119.80" width="0.70" height="0.50" fill="#000"/>
<rect x="151.20" y="119.50" width="0.70" height="0.80" fill="#000"/>
<rect x="151.90" y="119.50" width="0.70" height="0.80" fill="#000"/>
<rect x="152.60" y="119.50" width="0.70" height="0.80" fill="#000"/>
<rect x="153.30" y="119.90" width="0.70" height="0.40" fill="#000"/>
<rect x="154.00" y="119.80" width="0.70" height="0.50" fill="#000"/>
<rect x="154.70" y="119.90" width="0.70" height="0.40" fill="#000"/>
<rect x="155.40" y="119.50" width="0.70" height="0.80" fill="#000"/>
<rect x="156.10" y="119.00" width="0.70" height="1.30" fill="#000"/>
<rect x="156.80" y="119.50" width="0.70" height="0.80" fill="#000"/>
<rect x="157.50" y="116.04" width="0.70" height="4.26" fill="#000000"/>
<rect x="158.20" y="115.53" width="0.70" height="4.77" fill="#000000"/>
<rect x="158.90" y="116.04" width="0.70" height="4.26" fill="#000000"/>
<rect x="159.60" y="116.04" width="0.70" height="4.26" fill="#000000"/>
<rect x="160.30" y="119.90" width="0.70" height="0.40" fill="#000"/>
<rect x="161.00" y="118.50" width="0.70" height="1.80" fill="#000"/>
<rect x="161.70" y="119.70" width="0.70" height="0.60" fill="#000"/>
<rect x="162.40" y="114.91" width="0.70" height="5.39" fill="#000000"/>
<rect x="163.10" y="114.91" width="0.70" height="5.39" fill="#000000"/>
<rect x="163.80" y="118.50" width="0.70" height="1.80" fill="#000"/>
<rect x="164.50" y="119.50" width="0.70" height="0.80" fill="#000"/>
<rect x="165.20" y="110.27" width="0.70" height="10.03" fill="#666666"/>
<rect x="165.90" y="109.74" width="0.70" height="10.56" fill="#666666"/>
<rect x="166.60" y="111.32" width="0.70" height="8.98" fill="#666666"/>
<rect x="167.30" y="119.70" width="0.70" height="0.60" fill="#000"/>
<rect x="168.00" y="119.70" width="0.70" height="0.60" fill="#000"/>
<rect x="168.70" y="119.90" width="0.70" height="0.40" fill="#000"/>
<rect x="169.40" y="119.50" width="0.70" height="0.80" fill="#000"/>
<rect x="170.10" y="119.50" width="0.70" height="0.80" fill="#000"/>
<rect x="170.80" y="118.50" width="0.70" height="1.80" fill="#000"/>
<rect x="171.50" y="119.30" width="0.70" height="1.00" fill="#000"/>
<rect x="172.20" y="117.05" width="0.70" height="3.25" fill="#000000"/>
<rect x="172.90" y="117.05" width="0.70" height="3.25" fill="#000000"/>
<rect x="173.60" y="116.47" width="0.70" height="3.83" fill="#000000"/>
<rect x="174.30" y="116.47" width="0.70" height="3.83" fill="#000000"/>
<rect x="175.00" y="117.05" width="0.70" height="3.25" fill="#000000"/>
<rect x="175.70" y="116.66" width="0.70" height="3.64" fill="#000000"/>
<rect x="176.40" y="117.05" width="0.70" height="3.25" fill="#000000"/>
<rect x="177.10" y="118.39" width="0.70" height="1.91" fill="#000000"/>
<rect x="177.80" y="116.66" width="0.70" height="3.64" fill="#000000"/>
<rect x="178.50" y="117.05" width="0.70" height="3.25" fill="#000000"/>
<rect x="179.20" y="118.50" width="0.70" height="1.80" fill="#000"/>
<rect x="179.90" y="119.50" width="0.70" height="0.80" fill="#000"/>
<rect x="180.60" y="119.90" width="0.70" height="0.40" fill="#000"/>
<rect x="181.30" y="118.50" width="0.70" height="1.80" fill="#000"/>
<rect x="182.00" y="118.50" width="0.70" height="1.80" fill="#000"/>
<rect x="182.70" y="119.00" width="0.70" height="1.30" fill="#000"/>
<rect x="183.40" y="119.50" width="0.70" height="0.80" fill="#000"/>
<rect x="184.10" y="119.30" width="0.70" height="1.00" fill="#000"/>
<rect x="184.80" y="119.30" width="0.70" height="1.00" fill="#000"/>
<rect x="185.50" y="119.80" width="0.70" height="0.50" fill="#000"/>
<rect x="186.20" y="119.00" width="0.70" height="1.30" fill="#000"/>
<rect x="186.90" y="119.90" width="0.70" height="0.40" fill="#000"/>
<rect x="187.60" y="116.79" width="0.70" height="3.51" fill="#000000"/>
<rect x="188.30" y="117.79" width="0.70" height="2.51" fill="#000000"/>
<rect x="189.00" y="118.50" width="0.70" height="1.80" fill="#000"/>
<rect x="189.70" y="119.80" width="0.70" height="0.50" fill="#000"/>
<rect x="190.40" y="119.00" width="0.70" height="1.30" fill="#000"/>
<rect x="191.10" y="112.22" width="0.70" height="8.08" fill="#666666"/>
<rect x="191.80" y="110.80" width="0.70" height="9.50" fill="#666666"/>
<rect x="192.50" y="111.27" width="0.70" height="9.03" fill="#666666"/>
<rect x="193.20" y="119.80" width="0.70" height="0.50" fill="#000"/>
<rect x="193.90" y="119.50" width="0.70" height="0.80" fill="#000"/>
<rect x="194.60" y="119.50" width="0.70" height="0.80" fill="#000"/>
<rect x="195.30" y="119.70" width="0.70" height="0.60" fill="#000"/>
<rect x="196.00" y="119.70" width="0.70" height="0.60" fill="#000"/>
<rect x="196.70" y="119.70" width="0.70" height="0.60" fill="#000"/>
<rect x="197.40" y="119.70" width="0.70" height="0.60" fill="#000"/>
<rect x="198.10" y="119.00" width="0.70" height="1.30" fill="#000"/>
<rect x="198.80" y="119.00" width="0.70" height="1.30" fill="#000"/>
<rect x="199.50" y="119.00" width="0.70" height="1.30" fill="#000"/>
<rect x="200.20" y="119.70" width="0.70" height="0.60" fill="#000"/>
<rect x="200.90" y="119.50" width="0.70" height="0.80" fill="#000"/>
<rect x="201.60" y="117.79" width="0.70" height="2.51" fill="#000000"/>
<rect x="202.30" y="118.45" width="0.70" height="1.85" fill="#000000"/>
<rect x="203.00" y="119.30" width="0.70" height="1.00" fill="#000"/>
<rect x="203.70" y="119.00" width="0.70" height="1.30" fill="#000"/>
<rect x="204.40" y="119.50" width="0.70" height="0.80" fill="#000"/>
<rect x="205.10" y="119.90" width="0.70" height="0.40" fill="#000"/>
<rect x="205.80" y="119.80" width="0.70" height="0.50" fill="#000"/>
<rect x="206.50" y="119.00" width="0.70" height="1.30" fill="#000"/>
<rect x="207.20" y="115.28" width="0.70" height="5.02" fill="#000000"/>
<rect x="207.90" y="117.79" width="0.70" height="2.51" fill="#000000"/>
<rect x="208.60" y="116.79" width="0.70" height="3.51" fill="#000000"/>
<rect x="209.30" y="119.30" width="0.70" height="1.00" fill="#000"/>
<rect x="210.00" y="119.80" width="0.70" height="0.50" fill="#000"/>
<rect x="210.70" y="119.50" width="0.70" height="0.80" fill="#000"/>
<rect x="211.40" y="119.70" width="0.70" height="0.60" fill="#000"/>
<rect x="212.10" y="118.50" width="0.70" height="1.80" fill="#000"/>
<rect x="212.80" y="119.50" width="0.70" height="0.80" fill="#000"/>
<rect x="213.50" y="119.50" width="0.70" height="0.80" fill="#000"/>
<rect x="214.20" y="118.32" width="0.70" height="1.98" fill="#000000"/>
<rect x="214.90" y="116.54" width="0.70" height="3.76" fill="#000000"/>
<rect x="215.60" y="116.54" width="0.70" height="3.76" fill="#000000"/>
<rect x="216.30" y="119.70" width="0.70" height="0.60" fill="#000"/>
<rect x="217.00" y="119.30" width="0.70" height="1.00" fill="#000"/>
<rect x="217.70" y="119.90" width="0.70" height="0.40" fill="#000"/>
<rect x="218.40" y="119.70" width="0.70" height="0.60" fill="#000"/>
<rect x="219.10" y="119.80" width="0.70" height="0.50" fill="#000"/>
<rect x="219.80" y="119.70" width="0.70" height="0.60" fill="#000"/>
<rect x="220.50" y="119.70" width="0.70" height="0.60" fill="#000"/>
<rect x="221.20" y="118.50" width="0.70" height="1.80" fill="#000"/>
<rect x="221.90" y="119.30" width="0.70" height="1.00" fill="#000"/>
<rect x="222.60" y="119.80" width="0.70" height="0.50" fill="#000"/>
<rect x="223.30" y="119.90" width="0.70" height="0.40" fill="#000"/>
<rect x="224.00" y="119.00" width="0.70" height="1.30" fill="#000"/>
<rect x="224.70" y="117.53" width="0.70" height="2.77" fill="#000000"/>
<rect x="225.40" y="117.53" width="0.70" height="2.77" fill="#000000"/>
<rect x="226.10" y="119.00" width="0.70" height="1.30" fill="#000"/>
<rect x="226.80" y="119.30" width="0.70" height="1.00" fill="#000"/>
<rect x="227.50" y="119.80" width="0.70" height="0.50" fill="#000"/>
<rect x="228.20" y="116.49" width="0.70" height="3.81" fill="#000000"/>
<rect x="228.90" y="115.81" width="0.70" height="4.49" fill="#000000"/>
<rect x="229.60" y="119.50" width="0.70" height="0.80" fill="#000"/>
<rect x="230.30" y="119.70" width="0.70" height="0.60" fill="#000"/>
<rect x="231.00" y="115.48" width="0.70" height="4.82" fill="#000000"/>
<rect x="231.70" y="117.46" width="0.70" height="2.84" fill="#000000"/>
<rect x="232.40" y="114.91" width="0.70" height="5.39" fill="#000000"/>
<rect x="233.10" y="119.90" width="0.70" height="0.40" fill="#000"/>
<rect x="233.80" y="119.70" width="0.70" height="0.60" fill="#000"/>
<rect x="234.50" y="119.80" width="0.70" height="0.50" fill="#000"/>
<rect x="235.20" y="117.53" width="0.70" height="2.77" fill="#000000"/>
<rect x="235.90" y="117.53" width="0.70" height="2.77" fill="#000000"/>
<rect x="236.60" y="116.93" width="0.70" height="3.37" fill="#000000"/>
<rect x="237.30" y="116.34" width="0.70" height="3.96" fill="#000000"/>
<rect x="238.00" y="119.80" width="0.70" height="0.50" fill="#000"/>
<rect x="238.70" y="119.90" width="0.70" height="0.40" fill="#000"/>
<rect x="239.40" y="119.50" width="0.70" height="0.80" fill="#000"/>
<rect x="240.10" y="119.00" width="0.70" height="1.30" fill="#000"/>
<rect x="240.80" y="118.50" width="0.70" height="1.80" fill="#000"/>
<rect x="241.50" y="118.50" width="0.70" height="1.80" fill="#000"/>
<rect x="242.20" y="118.98" width="0.70" height="1.32" fill="#000000"/>
<rect x="242.90" y="117.66" width="0.70" height="2.64" fill="#000000"/>
<rect x="243.60" y="119.90" width="0.70" height="0.40" fill="#000"/>
<rect x="244.30" y="119.50" width="0.70" height="0.80" fill="#000"/>
<rect x="245.00" y="118.50" width="0.70" height="1.80" fill="#000"/>
<rect x="245.70" y="119.30" width="0.70" height="1.00" fill="#000"/>
<rect x="246.40" y="118.50" width="0.70" height="1.80" fill="#000"/>
<rect x="247.10" y="119.50" width="0.70" height="0.80" fill="#000"/>
<rect x="247.80" y="113.40" width="0.70" height="6.90" fill="#333333"/>
<rect x="248.50" y="113.04" width="0.70" height="7.26" fill="#333333"/>
<rect x="249.20" y="119.80" width="0.70" height="0.50" fill="#000"/>
<rect x="249.90" y="119.80" width="0.70" height="0.50" fill="#000"/>
<rect x="250.60" y="119.80" width="0.70" height="0.50" fill="#000"/>
<rect x="251.30" y="119.30" width="0.70" height="1.00" fill="#000"/>
<rect x="252.00" y="119.00" width="0.70" height="1.30" fill="#000"/>
<rect x="252.70" y="119.90" width="0.70" height="0.40" fill="#000"/>
<rect x="253.40" y="118.50" width="0.70" height="1.80" fill="#000"/>
<rect x="254.10" y="119.00" width="0.70" height="1.30" fill="#000"/>
<rect x="254.80" y="119.00" width="0.70" height="1.30" fill="#000"/>
<rect x="255.50" y="119.00" width="0.70" height="1.30" fill="#000"/>
<rect x="256.20" y="117.16" width="0.70" height="3.14" fill="#000000"/>
<rect x="256.90" y="118.06" width="0.70" height="2.24" fill="#000000"/>
<rect x="257.60" y="118.50" width="0.70" height="1.80" fill="#000"/>
<rect x="258.30" y="109.08" width="0.70" height="11.22" fill="#000000"/>
<rect x="259.00" y="109.64" width="0.70" height="10.66" fill="#000000"/>
<rect x="259.70" y="119.80" width="0.70" height="0.50" fill="#000"/>
<rect x="260.40" y="119.30" width="0.70" height="1.00" fill="#000"/>
<rect x="261.10" y="112.45" width="0.70" height="7.85" fill="#000000"/>
<rect x="261.80" y="112.45" width="0.70" height="7.85" fill="#000000"/>
<rect x="262.50" y="119.30" width="0.70" height="1.00" fill="#000"/>
<rect x="263.20" y="115.68" width="0.70" height="4.62" fill="#191919"/>
<rect x="263.90" y="113.70" width="0.70" height="6.60" fill="#191919"/>
<rect x="264.60" y="113.70" width="0.70" height="6.60" fill="#191919"/>
<rect x="265.30" y="119.70" width="0.70" height="0.60" fill="#000"/>
<line x1="12.6" y1="120.5" x2="265.3" y2="120.5" stroke="#111" stroke-width="0.9"/>
<line x1="13" y1="112.5" x2="13" y2="120.5" stroke="#111" stroke-width="0.8"/>
</g>
<g id="panelB">
<line x1="32.2" y1="286.5" x2="237" y2="286.5" stroke="#606060" stroke-width="1.1" stroke-dasharray="9.9 3.4"/>
<rect x="32.50" y="308.70" width="5.00" height="22.30" fill="#000"/>
<line x1="35.0" y1="308.7" x2="35.0" y2="304.463" stroke="#000" stroke-width="1.25"/>
<line x1="33.6" y1="304.463" x2="36.4" y2="304.463" stroke="#000" stroke-width="1.0"/>
<line x1="49.15" y1="303.794" x2="49.15" y2="298.442" stroke="#111" stroke-width="1.25"/>
<line x1="47.75" y1="298.442" x2="50.55" y2="298.442" stroke="#111" stroke-width="1.0"/>
<rect x="47.50" y="304.29" width="3.30" height="26.71" fill="#585858" stroke="#1a1a1a" stroke-width="1.0"/>
<line x1="53.55" y1="318.066" x2="53.55" y2="310.93" stroke="#111" stroke-width="1.25"/>
<line x1="52.15" y1="310.93" x2="54.949999999999996" y2="310.93" stroke="#111" stroke-width="1.0"/>
<rect x="51.90" y="318.57" width="3.30" height="12.43" fill="#585858" stroke="#1a1a1a" stroke-width="1.0"/>
<text x="49.05" y="335.9" font-size="5.2" font-weight="bold" stroke="#000" stroke-width="0.15" text-anchor="middle" fill="#000" style="stroke-width:0.55">+</text>
<text x="53.650000000000006" y="336.2" font-size="5.0" font-weight="bold" stroke="#000" stroke-width="0.15" text-anchor="middle" fill="#000" style="stroke-width:0.3">-</text>
<text x="0" y="0" font-size="6.5" font-weight="bold" stroke="#000" stroke-width="0.15" text-anchor="start" fill="#000" transform="translate(52.6 363) rotate(-90) scale(0.98 1)">CNC 1</text>
<line x1="62.6" y1="310.038" x2="62.6" y2="304.909" stroke="#111" stroke-width="1.25"/>
<line x1="61.2" y1="304.909" x2="64.0" y2="304.909" stroke="#111" stroke-width="1.0"/>
<rect x="60.95" y="310.54" width="3.30" height="20.46" fill="#585858" stroke="#1a1a1a" stroke-width="1.0"/>
<line x1="67.00000000000001" y1="295.32" x2="67.00000000000001" y2="285.508" stroke="#111" stroke-width="1.25"/>
<line x1="65.60000000000001" y1="285.508" x2="68.40000000000002" y2="285.508" stroke="#111" stroke-width="1.0"/>
<rect x="65.35" y="295.82" width="3.30" height="35.18" fill="#585858" stroke="#1a1a1a" stroke-width="1.0"/>
<text x="62.5" y="335.9" font-size="5.2" font-weight="bold" stroke="#000" stroke-width="0.15" text-anchor="middle" fill="#000" style="stroke-width:0.55">+</text>
<text x="67.10000000000001" y="336.2" font-size="5.0" font-weight="bold" stroke="#000" stroke-width="0.15" text-anchor="middle" fill="#000" style="stroke-width:0.3">-</text>
<text x="0" y="0" font-size="6.5" font-weight="bold" stroke="#000" stroke-width="0.15" text-anchor="start" fill="#000" transform="translate(66.05 363) rotate(-90) scale(0.98 1)">CNC 2</text>
<line x1="76.05000000000001" y1="310.038" x2="76.05000000000001" y2="308.7" stroke="#111" stroke-width="1.25"/>
<line x1="74.65" y1="308.7" x2="77.45000000000002" y2="308.7" stroke="#111" stroke-width="1.0"/>
<rect x="74.40" y="310.54" width="3.30" height="20.46" fill="#585858" stroke="#1a1a1a" stroke-width="1.0"/>
<line x1="80.45000000000002" y1="306.47" x2="80.45000000000002" y2="300.449" stroke="#111" stroke-width="1.25"/>
<line x1="79.05000000000001" y1="300.449" x2="81.85000000000002" y2="300.449" stroke="#111" stroke-width="1.0"/>
<rect x="78.80" y="306.97" width="3.30" height="24.03" fill="#585858" stroke="#1a1a1a" stroke-width="1.0"/>
<text x="75.95000000000002" y="335.9" font-size="5.2" font-weight="bold" stroke="#000" stroke-width="0.15" text-anchor="middle" fill="#000" style="stroke-width:0.55">+</text>
<text x="80.55000000000001" y="336.2" font-size="5.0" font-weight="bold" stroke="#000" stroke-width="0.15" text-anchor="middle" fill="#000" style="stroke-width:0.3">-</text>
<text x="0" y="0" font-size="6.5" font-weight="bold" stroke="#000" stroke-width="0.15" text-anchor="start" fill="#000" transform="translate(79.5 363) rotate(-90) scale(0.98 1)">CNC 3</text>
<line x1="89.5" y1="274.581" x2="89.5" y2="269.006" stroke="#111" stroke-width="1.25"/>
<line x1="88.1" y1="269.006" x2="90.9" y2="269.006" stroke="#111" stroke-width="1.0"/>
<rect x="87.85" y="275.08" width="3.30" height="55.92" fill="#585858" stroke="#1a1a1a" stroke-width="1.0"/>
<line x1="93.9" y1="291.08299999999997" x2="93.9" y2="278.595" stroke="#111" stroke-width="1.25"/>
<line x1="92.5" y1="278.595" x2="95.30000000000001" y2="278.595" stroke="#111" stroke-width="1.0"/>
<rect x="92.25" y="291.58" width="3.30" height="39.42" fill="#585858" stroke="#1a1a1a" stroke-width="1.0"/>
<text x="89.4" y="335.9" font-size="5.2" font-weight="bold" stroke="#000" stroke-width="0.15" text-anchor="middle" fill="#000" style="stroke-width:0.55">+</text>
<text x="94.0" y="336.2" font-size="5.0" font-weight="bold" stroke="#000" stroke-width="0.15" text-anchor="middle" fill="#000" style="stroke-width:0.3">-</text>
<text x="0" y="0" font-size="6.5" font-weight="bold" stroke="#000" stroke-width="0.15" text-anchor="start" fill="#000" transform="translate(92.94999999999999 363) rotate(-90) scale(0.98 1)">CNC 4</text>
<line x1="102.95" y1="296.881" x2="102.95" y2="285.508" stroke="#111" stroke-width="1.25"/>
<line x1="101.55" y1="285.508" x2="104.35000000000001" y2="285.508" stroke="#111" stroke-width="1.0"/>
<rect x="101.30" y="297.38" width="3.30" height="33.62" fill="#585858" stroke="#1a1a1a" stroke-width="1.0"/>
<line x1="107.35000000000001" y1="304.909" x2="107.35000000000001" y2="297.996" stroke="#111" stroke-width="1.25"/>
<line x1="105.95" y1="297.996" x2="108.75000000000001" y2="297.996" stroke="#111" stroke-width="1.0"/>
<rect x="105.70" y="305.41" width="3.30" height="25.59" fill="#585858" stroke="#1a1a1a" stroke-width="1.0"/>
<text x="102.85000000000001" y="335.9" font-size="5.2" font-weight="bold" stroke="#000" stroke-width="0.15" text-anchor="middle" fill="#000" style="stroke-width:0.55">+</text>
<text x="107.45" y="336.2" font-size="5.0" font-weight="bold" stroke="#000" stroke-width="0.15" text-anchor="middle" fill="#000" style="stroke-width:0.3">-</text>
<text x="0" y="0" font-size="6.5" font-weight="bold" stroke="#000" stroke-width="0.15" text-anchor="start" fill="#000" transform="translate(106.39999999999999 363) rotate(-90) scale(0.98 1)">CNC 5</text>
<line x1="116.4" y1="309.369" x2="116.4" y2="305.578" stroke="#111" stroke-width="1.25"/>
<line x1="115.0" y1="305.578" x2="117.80000000000001" y2="305.578" stroke="#111" stroke-width="1.0"/>
<rect x="114.75" y="309.87" width="3.30" height="21.13" fill="#585858" stroke="#1a1a1a" stroke-width="1.0"/>
<line x1="120.80000000000001" y1="304.24" x2="120.80000000000001" y2="296.658" stroke="#111" stroke-width="1.25"/>
<line x1="119.4" y1="296.658" x2="122.20000000000002" y2="296.658" stroke="#111" stroke-width="1.0"/>
<rect x="119.15" y="304.74" width="3.30" height="26.26" fill="#585858" stroke="#1a1a1a" stroke-width="1.0"/>
<text x="116.30000000000001" y="335.9" font-size="5.2" font-weight="bold" stroke="#000" stroke-width="0.15" text-anchor="middle" fill="#000" style="stroke-width:0.55">+</text>
<text x="120.9" y="336.2" font-size="5.0" font-weight="bold" stroke="#000" stroke-width="0.15" text-anchor="middle" fill="#000" style="stroke-width:0.3">-</text>
<text x="0" y="0" font-size="6.5" font-weight="bold" stroke="#000" stroke-width="0.15" text-anchor="start" fill="#000" transform="translate(119.85 363) rotate(-90) scale(0.98 1)">CNC 6</text>
<line x1="129.85" y1="303.125" x2="129.85" y2="293.09" stroke="#111" stroke-width="1.25"/>
<line x1="128.45" y1="293.09" x2="131.25" y2="293.09" stroke="#111" stroke-width="1.0"/>
<rect x="128.20" y="303.62" width="3.30" height="27.38" fill="#585858" stroke="#1a1a1a" stroke-width="1.0"/>
<line x1="134.25" y1="295.543" x2="134.25" y2="287.515" stroke="#111" stroke-width="1.25"/>
<line x1="132.85" y1="287.515" x2="135.65" y2="287.515" stroke="#111" stroke-width="1.0"/>
<rect x="132.60" y="296.04" width="3.30" height="34.96" fill="#585858" stroke="#1a1a1a" stroke-width="1.0"/>
<text x="129.75" y="335.9" font-size="5.2" font-weight="bold" stroke="#000" stroke-width="0.15" text-anchor="middle" fill="#000" style="stroke-width:0.55">+</text>
<text x="134.34999999999997" y="336.2" font-size="5.0" font-weight="bold" stroke="#000" stroke-width="0.15" text-anchor="middle" fill="#000" style="stroke-width:0.3">-</text>
<text x="0" y="0" font-size="6.5" font-weight="bold" stroke="#000" stroke-width="0.15" text-anchor="start" fill="#000" transform="translate(133.29999999999998 363) rotate(-90) scale(0.98 1)">CNC 7</text>
<line x1="143.29999999999998" y1="308.031" x2="143.29999999999998" y2="298.442" stroke="#111" stroke-width="1.25"/>
<line x1="141.89999999999998" y1="298.442" x2="144.7" y2="298.442" stroke="#111" stroke-width="1.0"/>
<rect x="141.65" y="308.53" width="3.30" height="22.47" fill="#585858" stroke="#1a1a1a" stroke-width="1.0"/>
<line x1="147.7" y1="304.24" x2="147.7" y2="295.543" stroke="#111" stroke-width="1.25"/>
<line x1="146.29999999999998" y1="295.543" x2="149.1" y2="295.543" stroke="#111" stroke-width="1.0"/>
<rect x="146.05" y="304.74" width="3.30" height="26.26" fill="#585858" stroke="#1a1a1a" stroke-width="1.0"/>
<text x="143.2" y="335.9" font-size="5.2" font-weight="bold" stroke="#000" stroke-width="0.15" text-anchor="middle" fill="#000" style="stroke-width:0.55">+</text>
<text x="147.79999999999995" y="336.2" font-size="5.0" font-weight="bold" stroke="#000" stroke-width="0.15" text-anchor="middle" fill="#000" style="stroke-width:0.3">-</text>
<text x="0" y="0" font-size="6.5" font-weight="bold" stroke="#000" stroke-width="0.15" text-anchor="start" fill="#000" transform="translate(146.74999999999997 363) rotate(-90) scale(0.98 1)">CNC 8</text>
<line x1="156.75" y1="302.233" x2="156.75" y2="293.536" stroke="#111" stroke-width="1.25"/>
<line x1="155.35" y1="293.536" x2="158.15" y2="293.536" stroke="#111" stroke-width="1.0"/>
<rect x="155.10" y="302.73" width="3.30" height="28.27" fill="#585858" stroke="#1a1a1a" stroke-width="1.0"/>
<line x1="161.15" y1="318.066" x2="161.15" y2="315.39" stroke="#111" stroke-width="1.25"/>
<line x1="159.75" y1="315.39" x2="162.55" y2="315.39" stroke="#111" stroke-width="1.0"/>
<rect x="159.50" y="318.57" width="3.30" height="12.43" fill="#585858" stroke="#1a1a1a" stroke-width="1.0"/>
<text x="156.65" y="335.9" font-size="5.2" font-weight="bold" stroke="#000" stroke-width="0.15" text-anchor="middle" fill="#000" style="stroke-width:0.55">+</text>
<text x="161.24999999999997" y="336.2" font-size="5.0" font-weight="bold" stroke="#000" stroke-width="0.15" text-anchor="middle" fill="#000" style="stroke-width:0.3">-</text>
<text x="0" y="0" font-size="6.5" font-weight="bold" stroke="#000" stroke-width="0.15" text-anchor="start" fill="#000" transform="translate(160.2 363) rotate(-90) scale(0.98 1)">CNC 9</text>
<line x1="170.20000000000002" y1="316.282" x2="170.20000000000002" y2="310.93" stroke="#111" stroke-width="1.25"/>
<line x1="168.8" y1="310.93" x2="171.60000000000002" y2="310.93" stroke="#111" stroke-width="1.0"/>
<rect x="168.55" y="316.78" width="3.30" height="14.22" fill="#585858" stroke="#1a1a1a" stroke-width="1.0"/>
<line x1="174.60000000000002" y1="294.651" x2="174.60000000000002" y2="283.055" stroke="#111" stroke-width="1.25"/>
<line x1="173.20000000000002" y1="283.055" x2="176.00000000000003" y2="283.055" stroke="#111" stroke-width="1.0"/>
<rect x="172.95" y="295.15" width="3.30" height="35.85" fill="#585858" stroke="#1a1a1a" stroke-width="1.0"/>
<text x="170.10000000000002" y="335.9" font-size="5.2" font-weight="bold" stroke="#000" stroke-width="0.15" text-anchor="middle" fill="#000" style="stroke-width:0.55">+</text>
<text x="174.7" y="336.2" font-size="5.0" font-weight="bold" stroke="#000" stroke-width="0.15" text-anchor="middle" fill="#000" style="stroke-width:0.3">-</text>
<text x="0" y="0" font-size="6.5" font-weight="bold" stroke="#000" stroke-width="0.15" text-anchor="start" fill="#000" transform="translate(173.65 363) rotate(-90) scale(0.98 1)">CNC 10</text>
<line x1="183.65" y1="319.85" x2="183.65" y2="316.728" stroke="#111" stroke-width="1.25"/>
<line x1="182.25" y1="316.728" x2="185.05" y2="316.728" stroke="#111" stroke-width="1.0"/>
<rect x="182.00" y="320.35" width="3.30" height="10.65" fill="#585858" stroke="#1a1a1a" stroke-width="1.0"/>
<line x1="188.05" y1="321.857" x2="188.05" y2="318.735" stroke="#111" stroke-width="1.25"/>
<line x1="186.65" y1="318.735" x2="189.45000000000002" y2="318.735" stroke="#111" stroke-width="1.0"/>
<rect x="186.40" y="322.36" width="3.30" height="8.64" fill="#585858" stroke="#1a1a1a" stroke-width="1.0"/>
<text x="183.55" y="335.9" font-size="5.2" font-weight="bold" stroke="#000" stroke-width="0.15" text-anchor="middle" fill="#000" style="stroke-width:0.55">+</text>
<text x="188.14999999999998" y="336.2" font-size="5.0" font-weight="bold" stroke="#000" stroke-width="0.15" text-anchor="middle" fill="#000" style="stroke-width:0.3">-</text>
<text x="0" y="0" font-size="6.5" font-weight="bold" stroke="#000" stroke-width="0.15" text-anchor="start" fill="#000" transform="translate(187.1 363) rotate(-90) scale(0.98 1)">CNC 11</text>
<line x1="197.1" y1="274.135" x2="197.1" y2="249.60500000000002" stroke="#111" stroke-width="1.25"/>
<line x1="195.7" y1="249.60500000000002" x2="198.5" y2="249.60500000000002" stroke="#111" stroke-width="1.0"/>
<rect x="195.45" y="274.63" width="3.30" height="56.37" fill="#585858" stroke="#1a1a1a" stroke-width="1.0"/>
<line x1="201.5" y1="300.003" x2="201.5" y2="287.961" stroke="#111" stroke-width="1.25"/>
<line x1="200.1" y1="287.961" x2="202.9" y2="287.961" stroke="#111" stroke-width="1.0"/>
<rect x="199.85" y="300.50" width="3.30" height="30.50" fill="#585858" stroke="#1a1a1a" stroke-width="1.0"/>
<text x="197.0" y="335.9" font-size="5.2" font-weight="bold" stroke="#000" stroke-width="0.15" text-anchor="middle" fill="#000" style="stroke-width:0.55">+</text>
<text x="201.59999999999997" y="336.2" font-size="5.0" font-weight="bold" stroke="#000" stroke-width="0.15" text-anchor="middle" fill="#000" style="stroke-width:0.3">-</text>
<text x="0" y="0" font-size="6.5" font-weight="bold" stroke="#000" stroke-width="0.15" text-anchor="start" fill="#000" transform="translate(200.54999999999998 363) rotate(-90) scale(0.98 1)">CNC 12</text>
<line x1="210.54999999999998" y1="240.016" x2="210.54999999999998" y2="213.03300000000002" stroke="#111" stroke-width="1.25"/>
<line x1="209.14999999999998" y1="213.03300000000002" x2="211.95" y2="213.03300000000002" stroke="#111" stroke-width="1.0"/>
<rect x="208.90" y="240.52" width="3.30" height="90.48" fill="#585858" stroke="#1a1a1a" stroke-width="1.0"/>
<line x1="214.95" y1="291.08299999999997" x2="214.95" y2="282.609" stroke="#111" stroke-width="1.25"/>
<line x1="213.54999999999998" y1="282.609" x2="216.35" y2="282.609" stroke="#111" stroke-width="1.0"/>
<rect x="213.30" y="291.58" width="3.30" height="39.42" fill="#585858" stroke="#1a1a1a" stroke-width="1.0"/>
<text x="210.45" y="335.9" font-size="5.2" font-weight="bold" stroke="#000" stroke-width="0.15" text-anchor="middle" fill="#000" style="stroke-width:0.55">+</text>
<text x="215.04999999999995" y="336.2" font-size="5.0" font-weight="bold" stroke="#000" stroke-width="0.15" text-anchor="middle" fill="#000" style="stroke-width:0.3">-</text>
<text x="0" y="0" font-size="6.5" font-weight="bold" stroke="#000" stroke-width="0.15" text-anchor="start" fill="#000" transform="translate(213.99999999999997 363) rotate(-90) scale(0.98 1)">CNC 13</text>
<line x1="224.0" y1="296.881" x2="224.0" y2="287.515" stroke="#111" stroke-width="1.25"/>
<line x1="222.6" y1="287.515" x2="225.4" y2="287.515" stroke="#111" stroke-width="1.0"/>
<rect x="222.35" y="297.38" width="3.30" height="33.62" fill="#585858" stroke="#1a1a1a" stroke-width="1.0"/>
<line x1="228.4" y1="302.456" x2="228.4" y2="292.421" stroke="#111" stroke-width="1.25"/>
<line x1="227.0" y1="292.421" x2="229.8" y2="292.421" stroke="#111" stroke-width="1.0"/>
<rect x="226.75" y="302.96" width="3.30" height="28.04" fill="#585858" stroke="#1a1a1a" stroke-width="1.0"/>
<text x="223.9" y="335.9" font-size="5.2" font-weight="bold" stroke="#000" stroke-width="0.15" text-anchor="middle" fill="#000" style="stroke-width:0.55">+</text>
<text x="228.49999999999997" y="336.2" font-size="5.0" font-weight="bold" stroke="#000" stroke-width="0.15" text-anchor="middle" fill="#000" style="stroke-width:0.3">-</text>
<text x="0" y="0" font-size="6.5" font-weight="bold" stroke="#000" stroke-width="0.15" text-anchor="start" fill="#000" transform="translate(227.45 363) rotate(-90) scale(0.98 1)">CNC 14</text>
<text x="0" y="0" font-size="6.9" font-weight="bold" stroke="#000" stroke-width="0.15" text-anchor="start" fill="#000" transform="translate(37.7 364.3) rotate(-90) scale(0.98 1)">Control</text>
<line x1="31.700000000000003" y1="331" x2="236" y2="331" stroke="#000" stroke-width="1.3"/>
<line x1="32.6" y1="196.5" x2="32.6" y2="331.5" stroke="#000" stroke-width="1.2"/>
<line x1="29.3" y1="331.0" x2="32.6" y2="331.0" stroke="#000" stroke-width="1.0"/>
<text x="0" y="0" font-size="7.0" font-weight="bold" stroke="#000" stroke-width="0.15" text-anchor="end" fill="#000" transform="translate(28.4 332.9) scale(0.9 1)">0</text>
<line x1="29.3" y1="308.7" x2="32.6" y2="308.7" stroke="#000" stroke-width="1.0"/>
<text x="0" y="0" font-size="7.0" font-weight="bold" stroke="#000" stroke-width="0.15" text-anchor="end" fill="#000" transform="translate(28.4 310.59999999999997) scale(0.9 1)">1</text>
<line x1="29.3" y1="286.4" x2="32.6" y2="286.4" stroke="#000" stroke-width="1.0"/>
<text x="0" y="0" font-size="7.0" font-weight="bold" stroke="#000" stroke-width="0.15" text-anchor="end" fill="#000" transform="translate(28.4 288.29999999999995) scale(0.9 1)">2</text>
<line x1="29.3" y1="264.1" x2="32.6" y2="264.1" stroke="#000" stroke-width="1.0"/>
<text x="0" y="0" font-size="7.0" font-weight="bold" stroke="#000" stroke-width="0.15" text-anchor="end" fill="#000" transform="translate(28.4 266.0) scale(0.9 1)">3</text>
<line x1="29.3" y1="241.8" x2="32.6" y2="241.8" stroke="#000" stroke-width="1.0"/>
<text x="0" y="0" font-size="7.0" font-weight="bold" stroke="#000" stroke-width="0.15" text-anchor="end" fill="#000" transform="translate(28.4 243.70000000000002) scale(0.9 1)">4</text>
<line x1="29.3" y1="219.5" x2="32.6" y2="219.5" stroke="#000" stroke-width="1.0"/>
<text x="0" y="0" font-size="7.0" font-weight="bold" stroke="#000" stroke-width="0.15" text-anchor="end" fill="#000" transform="translate(28.4 221.4) scale(0.9 1)">5</text>
<line x1="29.3" y1="197.2" x2="32.6" y2="197.2" stroke="#000" stroke-width="1.0"/>
<text x="0" y="0" font-size="7.0" font-weight="bold" stroke="#000" stroke-width="0.15" text-anchor="end" fill="#000" transform="translate(28.4 199.1) scale(0.9 1)">6</text>
<line x1="30.0" y1="319.85" x2="32.6" y2="319.85" stroke="#000" stroke-width="0.9"/>
<line x1="30.0" y1="297.55" x2="32.6" y2="297.55" stroke="#000" stroke-width="0.9"/>
<line x1="30.0" y1="275.25" x2="32.6" y2="275.25" stroke="#000" stroke-width="0.9"/>
<line x1="30.0" y1="252.95" x2="32.6" y2="252.95" stroke="#000" stroke-width="0.9"/>
<line x1="30.0" y1="230.64999999999998" x2="32.6" y2="230.64999999999998" stroke="#000" stroke-width="0.9"/>
<line x1="30.0" y1="208.35" x2="32.6" y2="208.35" stroke="#000" stroke-width="0.9"/>
<text x="0" y="0" font-size="7.17" font-weight="bold" stroke="#000" stroke-width="0.15" text-anchor="middle" fill="#000" transform="translate(18.8 264.2) rotate(-90) scale(0.9 1)">Relative luciferase activity</text>
<text x="0" y="0" font-size="6.78" font-weight="bold" stroke="#000" stroke-width="0.15" text-anchor="middle" fill="#000" transform="translate(89.5 268.05) scale(0.9 1)">**</text>
<text x="0" y="0" font-size="6.78" font-weight="bold" stroke="#000" stroke-width="0.15" text-anchor="middle" fill="#000" transform="translate(161.15 314.8) scale(0.9 1)">*</text>
<text x="0" y="0" font-size="6.78" font-weight="bold" stroke="#000" stroke-width="0.15" text-anchor="middle" fill="#000" transform="translate(170.2 310.55) scale(0.9 1)">*</text>
<text x="0" y="0" font-size="6.78" font-weight="bold" stroke="#000" stroke-width="0.15" text-anchor="middle" fill="#000" transform="translate(183.65 316.05) scale(0.9 1)">*</text>
<text x="0" y="0" font-size="6.78" font-weight="bold" stroke="#000" stroke-width="0.15" text-anchor="middle" fill="#000" transform="translate(188.05 318.05) scale(0.9 1)">*</text>
<text x="0" y="0" font-size="6.78" font-weight="bold" stroke="#000" stroke-width="0.15" text-anchor="middle" fill="#000" transform="translate(210.55 211.05) scale(0.9 1)">*</text>
</g>
<g id="panelD">
<line x1="316.3" y1="287.5" x2="520" y2="287.5" stroke="#606060" stroke-width="1.1" stroke-dasharray="9.9 3.4"/>
<rect x="317.00" y="309.95" width="5.00" height="22.35" fill="#000"/>
<line x1="319.5" y1="309.95" x2="319.5" y2="305.7035" stroke="#000" stroke-width="1.25"/>
<line x1="318.1" y1="305.7035" x2="320.9" y2="305.7035" stroke="#000" stroke-width="1.0"/>
<line x1="333.65" y1="308.60900000000004" x2="333.65" y2="302.351" stroke="#111" stroke-width="1.25"/>
<line x1="332.25" y1="302.351" x2="335.04999999999995" y2="302.351" stroke="#111" stroke-width="1.0"/>
<rect x="332.00" y="309.11" width="3.30" height="23.19" fill="#c2c2c2" stroke="#151515" stroke-width="1.0"/>
<line x1="338.04999999999995" y1="310.397" x2="338.04999999999995" y2="306.1505" stroke="#111" stroke-width="1.25"/>
<line x1="336.65" y1="306.1505" x2="339.44999999999993" y2="306.1505" stroke="#111" stroke-width="1.0"/>
<rect x="336.40" y="310.90" width="3.30" height="21.40" fill="#c2c2c2" stroke="#151515" stroke-width="1.0"/>
<text x="333.54999999999995" y="336.5" font-size="5.2" font-weight="bold" stroke="#000" stroke-width="0.15" text-anchor="middle" fill="#000" style="stroke-width:0.55">+</text>
<text x="338.15" y="336.8" font-size="5.0" font-weight="bold" stroke="#000" stroke-width="0.15" text-anchor="middle" fill="#000" style="stroke-width:0.3">-</text>
<text x="0" y="0" font-size="6.5" font-weight="bold" stroke="#000" stroke-width="0.15" text-anchor="start" fill="#000" transform="translate(337.1 363) rotate(-90) scale(0.98 1)">CNC 1</text>
<line x1="347.09999999999997" y1="304.8095" x2="347.09999999999997" y2="295.8695" stroke="#111" stroke-width="1.25"/>
<line x1="345.7" y1="295.8695" x2="348.49999999999994" y2="295.8695" stroke="#111" stroke-width="1.0"/>
<rect x="345.45" y="305.31" width="3.30" height="26.99" fill="#c2c2c2" stroke="#151515" stroke-width="1.0"/>
<line x1="351.49999999999994" y1="305.48" x2="351.49999999999994" y2="301.01" stroke="#111" stroke-width="1.25"/>
<line x1="350.09999999999997" y1="301.01" x2="352.8999999999999" y2="301.01" stroke="#111" stroke-width="1.0"/>
<rect x="349.85" y="305.98" width="3.30" height="26.32" fill="#c2c2c2" stroke="#151515" stroke-width="1.0"/>
<text x="346.99999999999994" y="336.5" font-size="5.2" font-weight="bold" stroke="#000" stroke-width="0.15" text-anchor="middle" fill="#000" style="stroke-width:0.55">+</text>
<text x="351.59999999999997" y="336.8" font-size="5.0" font-weight="bold" stroke="#000" stroke-width="0.15" text-anchor="middle" fill="#000" style="stroke-width:0.3">-</text>
<text x="0" y="0" font-size="6.5" font-weight="bold" stroke="#000" stroke-width="0.15" text-anchor="start" fill="#000" transform="translate(350.55 363) rotate(-90) scale(0.98 1)">CNC 2</text>
<line x1="360.54999999999995" y1="303.4685" x2="360.54999999999995" y2="291.623" stroke="#111" stroke-width="1.25"/>
<line x1="359.15" y1="291.623" x2="361.94999999999993" y2="291.623" stroke="#111" stroke-width="1.0"/>
<rect x="358.90" y="303.97" width="3.30" height="28.33" fill="#c2c2c2" stroke="#151515" stroke-width="1.0"/>
<line x1="364.94999999999993" y1="302.351" x2="364.94999999999993" y2="294.9755" stroke="#111" stroke-width="1.25"/>
<line x1="363.54999999999995" y1="294.9755" x2="366.3499999999999" y2="294.9755" stroke="#111" stroke-width="1.0"/>
<rect x="363.30" y="302.85" width="3.30" height="29.45" fill="#c2c2c2" stroke="#151515" stroke-width="1.0"/>
<text x="360.44999999999993" y="336.5" font-size="5.2" font-weight="bold" stroke="#000" stroke-width="0.15" text-anchor="middle" fill="#000" style="stroke-width:0.55">+</text>
<text x="365.04999999999995" y="336.8" font-size="5.0" font-weight="bold" stroke="#000" stroke-width="0.15" text-anchor="middle" fill="#000" style="stroke-width:0.3">-</text>
<text x="0" y="0" font-size="6.5" font-weight="bold" stroke="#000" stroke-width="0.15" text-anchor="start" fill="#000" transform="translate(364.0 363) rotate(-90) scale(0.98 1)">CNC 3</text>
<line x1="374.0" y1="289.83500000000004" x2="374.0" y2="285.812" stroke="#111" stroke-width="1.25"/>
<line x1="372.6" y1="285.812" x2="375.4" y2="285.812" stroke="#111" stroke-width="1.0"/>
<rect x="372.35" y="290.34" width="3.30" height="41.96" fill="#c2c2c2" stroke="#151515" stroke-width="1.0"/>
<line x1="378.4" y1="309.056" x2="378.4" y2="301.6805" stroke="#111" stroke-width="1.25"/>
<line x1="377.0" y1="301.6805" x2="379.79999999999995" y2="301.6805" stroke="#111" stroke-width="1.0"/>
<rect x="376.75" y="309.56" width="3.30" height="22.74" fill="#c2c2c2" stroke="#151515" stroke-width="1.0"/>
<text x="373.9" y="336.5" font-size="5.2" font-weight="bold" stroke="#000" stroke-width="0.15" text-anchor="middle" fill="#000" style="stroke-width:0.55">+</text>
<text x="378.5" y="336.8" font-size="5.0" font-weight="bold" stroke="#000" stroke-width="0.15" text-anchor="middle" fill="#000" style="stroke-width:0.3">-</text>
<text x="0" y="0" font-size="6.5" font-weight="bold" stroke="#000" stroke-width="0.15" text-anchor="start" fill="#000" transform="translate(377.45000000000005 363) rotate(-90) scale(0.98 1)">CNC 4</text>
<line x1="387.45" y1="299.222" x2="387.45" y2="287.6" stroke="#111" stroke-width="1.25"/>
<line x1="386.05" y1="287.6" x2="388.84999999999997" y2="287.6" stroke="#111" stroke-width="1.0"/>
<rect x="385.80" y="299.72" width="3.30" height="32.58" fill="#c2c2c2" stroke="#151515" stroke-width="1.0"/>
<line x1="391.84999999999997" y1="302.798" x2="391.84999999999997" y2="290.5055" stroke="#111" stroke-width="1.25"/>
<line x1="390.45" y1="290.5055" x2="393.24999999999994" y2="290.5055" stroke="#111" stroke-width="1.0"/>
<rect x="390.20" y="303.30" width="3.30" height="29.00" fill="#c2c2c2" stroke="#151515" stroke-width="1.0"/>
<text x="387.34999999999997" y="336.5" font-size="5.2" font-weight="bold" stroke="#000" stroke-width="0.15" text-anchor="middle" fill="#000" style="stroke-width:0.55">+</text>
<text x="391.95" y="336.8" font-size="5.0" font-weight="bold" stroke="#000" stroke-width="0.15" text-anchor="middle" fill="#000" style="stroke-width:0.3">-</text>
<text x="0" y="0" font-size="6.5" font-weight="bold" stroke="#000" stroke-width="0.15" text-anchor="start" fill="#000" transform="translate(390.90000000000003 363) rotate(-90) scale(0.98 1)">CNC 5</text>
<line x1="400.9" y1="304.139" x2="400.9" y2="299.222" stroke="#111" stroke-width="1.25"/>
<line x1="399.5" y1="299.222" x2="402.29999999999995" y2="299.222" stroke="#111" stroke-width="1.0"/>
<rect x="399.25" y="304.64" width="3.30" height="27.66" fill="#c2c2c2" stroke="#151515" stroke-width="1.0"/>
<line x1="405.29999999999995" y1="305.48" x2="405.29999999999995" y2="297.434" stroke="#111" stroke-width="1.25"/>
<line x1="403.9" y1="297.434" x2="406.69999999999993" y2="297.434" stroke="#111" stroke-width="1.0"/>
<rect x="403.65" y="305.98" width="3.30" height="26.32" fill="#c2c2c2" stroke="#151515" stroke-width="1.0"/>
<text x="400.79999999999995" y="336.5" font-size="5.2" font-weight="bold" stroke="#000" stroke-width="0.15" text-anchor="middle" fill="#000" style="stroke-width:0.55">+</text>
<text x="405.4" y="336.8" font-size="5.0" font-weight="bold" stroke="#000" stroke-width="0.15" text-anchor="middle" fill="#000" style="stroke-width:0.3">-</text>
<text x="0" y="0" font-size="6.5" font-weight="bold" stroke="#000" stroke-width="0.15" text-anchor="start" fill="#000" transform="translate(404.35 363) rotate(-90) scale(0.98 1)">CNC 6</text>
<line x1="414.34999999999997" y1="286.706" x2="414.34999999999997" y2="271.508" stroke="#111" stroke-width="1.25"/>
<line x1="412.95" y1="271.508" x2="415.74999999999994" y2="271.508" stroke="#111" stroke-width="1.0"/>
<rect x="412.70" y="287.21" width="3.30" height="45.09" fill="#c2c2c2" stroke="#151515" stroke-width="1.0"/>
<line x1="418.74999999999994" y1="297.434" x2="418.74999999999994" y2="286.706" stroke="#111" stroke-width="1.25"/>
<line x1="417.34999999999997" y1="286.706" x2="420.1499999999999" y2="286.706" stroke="#111" stroke-width="1.0"/>
<rect x="417.10" y="297.93" width="3.30" height="34.37" fill="#c2c2c2" stroke="#151515" stroke-width="1.0"/>
<text x="414.24999999999994" y="336.5" font-size="5.2" font-weight="bold" stroke="#000" stroke-width="0.15" text-anchor="middle" fill="#000" style="stroke-width:0.55">+</text>
<text x="418.84999999999997" y="336.8" font-size="5.0" font-weight="bold" stroke="#000" stroke-width="0.15" text-anchor="middle" fill="#000" style="stroke-width:0.3">-</text>
<text x="0" y="0" font-size="6.5" font-weight="bold" stroke="#000" stroke-width="0.15" text-anchor="start" fill="#000" transform="translate(417.8 363) rotate(-90) scale(0.98 1)">CNC 7</text>
<line x1="427.79999999999995" y1="320.9015" x2="427.79999999999995" y2="317.77250000000004" stroke="#111" stroke-width="1.25"/>
<line x1="426.4" y1="317.77250000000004" x2="429.19999999999993" y2="317.77250000000004" stroke="#111" stroke-width="1.0"/>
<rect x="426.15" y="321.40" width="3.30" height="10.90" fill="#c2c2c2" stroke="#151515" stroke-width="1.0"/>
<line x1="432.19999999999993" y1="309.056" x2="432.19999999999993" y2="302.351" stroke="#111" stroke-width="1.25"/>
<line x1="430.79999999999995" y1="302.351" x2="433.5999999999999" y2="302.351" stroke="#111" stroke-width="1.0"/>
<rect x="430.55" y="309.56" width="3.30" height="22.74" fill="#c2c2c2" stroke="#151515" stroke-width="1.0"/>
<text x="427.69999999999993" y="336.5" font-size="5.2" font-weight="bold" stroke="#000" stroke-width="0.15" text-anchor="middle" fill="#000" style="stroke-width:0.55">+</text>
<text x="432.29999999999995" y="336.8" font-size="5.0" font-weight="bold" stroke="#000" stroke-width="0.15" text-anchor="middle" fill="#000" style="stroke-width:0.3">-</text>
<text x="0" y="0" font-size="6.5" font-weight="bold" stroke="#000" stroke-width="0.15" text-anchor="start" fill="#000" transform="translate(431.25 363) rotate(-90) scale(0.98 1)">CNC 8</text>
<line x1="441.25" y1="310.844" x2="441.25" y2="306.5975" stroke="#111" stroke-width="1.25"/>
<line x1="439.85" y1="306.5975" x2="442.65" y2="306.5975" stroke="#111" stroke-width="1.0"/>
<rect x="439.60" y="311.34" width="3.30" height="20.96" fill="#c2c2c2" stroke="#151515" stroke-width="1.0"/>
<line x1="445.65" y1="315.761" x2="445.65" y2="312.4085" stroke="#111" stroke-width="1.25"/>
<line x1="444.25" y1="312.4085" x2="447.04999999999995" y2="312.4085" stroke="#111" stroke-width="1.0"/>
<rect x="444.00" y="316.26" width="3.30" height="16.04" fill="#c2c2c2" stroke="#151515" stroke-width="1.0"/>
<text x="441.15" y="336.5" font-size="5.2" font-weight="bold" stroke="#000" stroke-width="0.15" text-anchor="middle" fill="#000" style="stroke-width:0.55">+</text>
<text x="445.75" y="336.8" font-size="5.0" font-weight="bold" stroke="#000" stroke-width="0.15" text-anchor="middle" fill="#000" style="stroke-width:0.3">-</text>
<text x="0" y="0" font-size="6.5" font-weight="bold" stroke="#000" stroke-width="0.15" text-anchor="start" fill="#000" transform="translate(444.70000000000005 363) rotate(-90) scale(0.98 1)">CNC 9</text>
<line x1="454.7" y1="301.01" x2="454.7" y2="288.494" stroke="#111" stroke-width="1.25"/>
<line x1="453.3" y1="288.494" x2="456.09999999999997" y2="288.494" stroke="#111" stroke-width="1.0"/>
<rect x="453.05" y="301.51" width="3.30" height="30.79" fill="#c2c2c2" stroke="#151515" stroke-width="1.0"/>
<line x1="459.09999999999997" y1="293.411" x2="459.09999999999997" y2="280.895" stroke="#111" stroke-width="1.25"/>
<line x1="457.7" y1="280.895" x2="460.49999999999994" y2="280.895" stroke="#111" stroke-width="1.0"/>
<rect x="457.45" y="293.91" width="3.30" height="38.39" fill="#c2c2c2" stroke="#151515" stroke-width="1.0"/>
<text x="454.59999999999997" y="336.5" font-size="5.2" font-weight="bold" stroke="#000" stroke-width="0.15" text-anchor="middle" fill="#000" style="stroke-width:0.55">+</text>
<text x="459.2" y="336.8" font-size="5.0" font-weight="bold" stroke="#000" stroke-width="0.15" text-anchor="middle" fill="#000" style="stroke-width:0.3">-</text>
<text x="0" y="0" font-size="6.5" font-weight="bold" stroke="#000" stroke-width="0.15" text-anchor="start" fill="#000" transform="translate(458.15000000000003 363) rotate(-90) scale(0.98 1)">CNC 10</text>
<line x1="468.15" y1="307.26800000000003" x2="468.15" y2="300.3395" stroke="#111" stroke-width="1.25"/>
<line x1="466.75" y1="300.3395" x2="469.54999999999995" y2="300.3395" stroke="#111" stroke-width="1.0"/>
<rect x="466.50" y="307.77" width="3.30" height="24.53" fill="#c2c2c2" stroke="#151515" stroke-width="1.0"/>
<line x1="472.54999999999995" y1="305.48" x2="472.54999999999995" y2="296.54" stroke="#111" stroke-width="1.25"/>
<line x1="471.15" y1="296.54" x2="473.94999999999993" y2="296.54" stroke="#111" stroke-width="1.0"/>
<rect x="470.90" y="305.98" width="3.30" height="26.32" fill="#c2c2c2" stroke="#151515" stroke-width="1.0"/>
<text x="468.04999999999995" y="336.5" font-size="5.2" font-weight="bold" stroke="#000" stroke-width="0.15" text-anchor="middle" fill="#000" style="stroke-width:0.55">+</text>
<text x="472.65" y="336.8" font-size="5.0" font-weight="bold" stroke="#000" stroke-width="0.15" text-anchor="middle" fill="#000" style="stroke-width:0.3">-</text>
<text x="0" y="0" font-size="6.5" font-weight="bold" stroke="#000" stroke-width="0.15" text-anchor="start" fill="#000" transform="translate(471.6 363) rotate(-90) scale(0.98 1)">CNC 11</text>
<line x1="481.59999999999997" y1="305.927" x2="481.59999999999997" y2="296.54" stroke="#111" stroke-width="1.25"/>
<line x1="480.2" y1="296.54" x2="482.99999999999994" y2="296.54" stroke="#111" stroke-width="1.0"/>
<rect x="479.95" y="306.43" width="3.30" height="25.87" fill="#c2c2c2" stroke="#151515" stroke-width="1.0"/>
<line x1="485.99999999999994" y1="296.54" x2="485.99999999999994" y2="283.3535" stroke="#111" stroke-width="1.25"/>
<line x1="484.59999999999997" y1="283.3535" x2="487.3999999999999" y2="283.3535" stroke="#111" stroke-width="1.0"/>
<rect x="484.35" y="297.04" width="3.30" height="35.26" fill="#c2c2c2" stroke="#151515" stroke-width="1.0"/>
<text x="481.49999999999994" y="336.5" font-size="5.2" font-weight="bold" stroke="#000" stroke-width="0.15" text-anchor="middle" fill="#000" style="stroke-width:0.55">+</text>
<text x="486.09999999999997" y="336.8" font-size="5.0" font-weight="bold" stroke="#000" stroke-width="0.15" text-anchor="middle" fill="#000" style="stroke-width:0.3">-</text>
<text x="0" y="0" font-size="6.5" font-weight="bold" stroke="#000" stroke-width="0.15" text-anchor="start" fill="#000" transform="translate(485.05 363) rotate(-90) scale(0.98 1)">CNC 12</text>
<line x1="495.04999999999995" y1="283.3535" x2="495.04999999999995" y2="263.015" stroke="#111" stroke-width="1.25"/>
<line x1="493.65" y1="263.015" x2="496.44999999999993" y2="263.015" stroke="#111" stroke-width="1.0"/>
<rect x="493.40" y="283.85" width="3.30" height="48.45" fill="#c2c2c2" stroke="#151515" stroke-width="1.0"/>
<line x1="499.44999999999993" y1="246.476" x2="499.44999999999993" y2="220.103" stroke="#111" stroke-width="1.25"/>
<line x1="498.04999999999995" y1="220.103" x2="500.8499999999999" y2="220.103" stroke="#111" stroke-width="1.0"/>
<rect x="497.80" y="246.98" width="3.30" height="85.32" fill="#c2c2c2" stroke="#151515" stroke-width="1.0"/>
<text x="494.94999999999993" y="336.5" font-size="5.2" font-weight="bold" stroke="#000" stroke-width="0.15" text-anchor="middle" fill="#000" style="stroke-width:0.55">+</text>
<text x="499.54999999999995" y="336.8" font-size="5.0" font-weight="bold" stroke="#000" stroke-width="0.15" text-anchor="middle" fill="#000" style="stroke-width:0.3">-</text>
<text x="0" y="0" font-size="6.5" font-weight="bold" stroke="#000" stroke-width="0.15" text-anchor="start" fill="#000" transform="translate(498.5 363) rotate(-90) scale(0.98 1)">CNC 13</text>
<line x1="508.5" y1="284.918" x2="508.5" y2="270.8375" stroke="#111" stroke-width="1.25"/>
<line x1="507.1" y1="270.8375" x2="509.9" y2="270.8375" stroke="#111" stroke-width="1.0"/>
<rect x="506.85" y="285.42" width="3.30" height="46.88" fill="#c2c2c2" stroke="#151515" stroke-width="1.0"/>
<line x1="512.9" y1="281.5655" x2="512.9" y2="270.8375" stroke="#111" stroke-width="1.25"/>
<line x1="511.5" y1="270.8375" x2="514.3" y2="270.8375" stroke="#111" stroke-width="1.0"/>
<rect x="511.25" y="282.07" width="3.30" height="50.23" fill="#c2c2c2" stroke="#151515" stroke-width="1.0"/>
<text x="508.4" y="336.5" font-size="5.2" font-weight="bold" stroke="#000" stroke-width="0.15" text-anchor="middle" fill="#000" style="stroke-width:0.55">+</text>
<text x="513.0000000000001" y="336.8" font-size="5.0" font-weight="bold" stroke="#000" stroke-width="0.15" text-anchor="middle" fill="#000" style="stroke-width:0.3">-</text>
<text x="0" y="0" font-size="6.5" font-weight="bold" stroke="#000" stroke-width="0.15" text-anchor="start" fill="#000" transform="translate(511.95000000000005 363) rotate(-90) scale(0.98 1)">CNC 14</text>
<text x="0" y="0" font-size="6.9" font-weight="bold" stroke="#000" stroke-width="0.15" text-anchor="start" fill="#000" transform="translate(322.2 364.3) rotate(-90) scale(0.98 1)">Control</text>
<line x1="315.8" y1="332.3" x2="515.5" y2="332.3" stroke="#000" stroke-width="1.3"/>
<line x1="316.3" y1="197.7" x2="316.3" y2="332.9" stroke="#000" stroke-width="1.2"/>
<line x1="313.1" y1="332.3" x2="316.3" y2="332.3" stroke="#000" stroke-width="1.0"/>
<text x="0" y="0" font-size="7.0" font-weight="bold" stroke="#000" stroke-width="0.15" text-anchor="end" fill="#000" transform="translate(312.3 334.2) scale(0.9 1)">0</text>
<line x1="313.1" y1="309.95" x2="316.3" y2="309.95" stroke="#000" stroke-width="1.0"/>
<text x="0" y="0" font-size="7.0" font-weight="bold" stroke="#000" stroke-width="0.15" text-anchor="end" fill="#000" transform="translate(312.3 311.84999999999997) scale(0.9 1)">1</text>
<line x1="313.1" y1="287.6" x2="316.3" y2="287.6" stroke="#000" stroke-width="1.0"/>
<text x="0" y="0" font-size="7.0" font-weight="bold" stroke="#000" stroke-width="0.15" text-anchor="end" fill="#000" transform="translate(312.3 289.5) scale(0.9 1)">2</text>
<line x1="313.1" y1="265.25" x2="316.3" y2="265.25" stroke="#000" stroke-width="1.0"/>
<text x="0" y="0" font-size="7.0" font-weight="bold" stroke="#000" stroke-width="0.15" text-anchor="end" fill="#000" transform="translate(312.3 267.15) scale(0.9 1)">3</text>
<line x1="313.1" y1="242.9" x2="316.3" y2="242.9" stroke="#000" stroke-width="1.0"/>
<text x="0" y="0" font-size="7.0" font-weight="bold" stroke="#000" stroke-width="0.15" text-anchor="end" fill="#000" transform="translate(312.3 244.8) scale(0.9 1)">4</text>
<line x1="313.1" y1="220.55" x2="316.3" y2="220.55" stroke="#000" stroke-width="1.0"/>
<text x="0" y="0" font-size="7.0" font-weight="bold" stroke="#000" stroke-width="0.15" text-anchor="end" fill="#000" transform="translate(312.3 222.45000000000002) scale(0.9 1)">5</text>
<line x1="313.1" y1="198.2" x2="316.3" y2="198.2" stroke="#000" stroke-width="1.0"/>
<text x="0" y="0" font-size="7.0" font-weight="bold" stroke="#000" stroke-width="0.15" text-anchor="end" fill="#000" transform="translate(312.3 200.1) scale(0.9 1)">6</text>
<line x1="313.8" y1="321.125" x2="316.3" y2="321.125" stroke="#000" stroke-width="0.9"/>
<line x1="313.8" y1="298.775" x2="316.3" y2="298.775" stroke="#000" stroke-width="0.9"/>
<line x1="313.8" y1="276.425" x2="316.3" y2="276.425" stroke="#000" stroke-width="0.9"/>
<line x1="313.8" y1="254.075" x2="316.3" y2="254.075" stroke="#000" stroke-width="0.9"/>
<line x1="313.8" y1="231.72500000000002" x2="316.3" y2="231.72500000000002" stroke="#000" stroke-width="0.9"/>
<line x1="313.8" y1="209.375" x2="316.3" y2="209.375" stroke="#000" stroke-width="0.9"/>
<text x="0" y="0" font-size="7.17" font-weight="bold" stroke="#000" stroke-width="0.15" text-anchor="middle" fill="#000" transform="translate(302.4 265.6) rotate(-90) scale(0.9 1)">Relative luciferase activity</text>
<text x="0" y="0" font-size="6.78" font-weight="bold" stroke="#000" stroke-width="0.15" text-anchor="middle" fill="#000" transform="translate(374 283.55) scale(0.9 1)">**</text>
<text x="0" y="0" font-size="6.78" font-weight="bold" stroke="#000" stroke-width="0.15" text-anchor="middle" fill="#000" transform="translate(427.8 318.55) scale(0.9 1)">*</text>
<text x="0" y="0" font-size="6.78" font-weight="bold" stroke="#000" stroke-width="0.15" text-anchor="middle" fill="#000" transform="translate(445.65 314.8) scale(0.9 1)">*</text>
<text x="0" y="0" font-size="6.78" font-weight="bold" stroke="#000" stroke-width="0.15" text-anchor="middle" fill="#000" transform="translate(499.45 218.05) scale(0.9 1)">*</text>
<text x="0" y="0" font-size="6.78" font-weight="bold" stroke="#000" stroke-width="0.15" text-anchor="middle" fill="#000" transform="translate(508.5 271.05) scale(0.9 1)">*</text>
<text x="0" y="0" font-size="6.78" font-weight="bold" stroke="#000" stroke-width="0.15" text-anchor="middle" fill="#000" transform="translate(512.9 270.55) scale(0.9 1)">*</text>
</g>
<g id="panelC">
<line x1="315.5" y1="106.75" x2="520" y2="106.75" stroke="#555" stroke-width="1.0" stroke-dasharray="8.8 4.3"/>
<rect x="315.30" y="126.45" width="5.00" height="19.80" fill="#000"/>
<line x1="317.8" y1="126.45" x2="317.8" y2="124.47" stroke="#000" stroke-width="1.25"/>
<line x1="316.40000000000003" y1="124.47" x2="319.2" y2="124.47" stroke="#000" stroke-width="1.0"/>
<line x1="331.65" y1="128.232" x2="331.65" y2="127.44" stroke="#111" stroke-width="1.25"/>
<line x1="330.25" y1="127.44" x2="333.04999999999995" y2="127.44" stroke="#111" stroke-width="1.0"/>
<rect x="330.00" y="128.73" width="3.30" height="17.52" fill="#808080" stroke="#222" stroke-width="1.0"/>
<line x1="336.04999999999995" y1="128.826" x2="336.04999999999995" y2="128.034" stroke="#111" stroke-width="1.25"/>
<line x1="334.65" y1="128.034" x2="337.44999999999993" y2="128.034" stroke="#111" stroke-width="1.0"/>
<rect x="334.40" y="129.33" width="3.30" height="16.92" fill="#808080" stroke="#222" stroke-width="1.0"/>
<text x="331.54999999999995" y="153.2" font-size="5.2" font-weight="bold" stroke="#000" stroke-width="0.15" text-anchor="middle" fill="#000" style="stroke-width:0.55">+</text>
<text x="336.15" y="153.5" font-size="5.0" font-weight="bold" stroke="#000" stroke-width="0.15" text-anchor="middle" fill="#000" style="stroke-width:0.3">-</text>
<text x="0" y="0" font-size="6.75" font-weight="bold" stroke="#000" stroke-width="0.15" text-anchor="start" fill="#000" transform="translate(335.1 178.4) rotate(-90) scale(0.97 1)">CNC 1</text>
<line x1="345.09999999999997" y1="119.52" x2="345.09999999999997" y2="116.946" stroke="#111" stroke-width="1.25"/>
<line x1="343.7" y1="116.946" x2="346.49999999999994" y2="116.946" stroke="#111" stroke-width="1.0"/>
<rect x="343.45" y="120.02" width="3.30" height="26.23" fill="#808080" stroke="#222" stroke-width="1.0"/>
<line x1="349.49999999999994" y1="125.064" x2="349.49999999999994" y2="124.47" stroke="#111" stroke-width="1.25"/>
<line x1="348.09999999999997" y1="124.47" x2="350.8999999999999" y2="124.47" stroke="#111" stroke-width="1.0"/>
<rect x="347.85" y="125.56" width="3.30" height="20.69" fill="#808080" stroke="#222" stroke-width="1.0"/>
<text x="344.99999999999994" y="153.2" font-size="5.2" font-weight="bold" stroke="#000" stroke-width="0.15" text-anchor="middle" fill="#000" style="stroke-width:0.55">+</text>
<text x="349.59999999999997" y="153.5" font-size="5.0" font-weight="bold" stroke="#000" stroke-width="0.15" text-anchor="middle" fill="#000" style="stroke-width:0.3">-</text>
<text x="0" y="0" font-size="6.75" font-weight="bold" stroke="#000" stroke-width="0.15" text-anchor="start" fill="#000" transform="translate(348.55 178.4) rotate(-90) scale(0.97 1)">CNC 2</text>
<line x1="358.54999999999995" y1="127.44" x2="358.54999999999995" y2="125.064" stroke="#111" stroke-width="1.25"/>
<line x1="357.15" y1="125.064" x2="359.94999999999993" y2="125.064" stroke="#111" stroke-width="1.0"/>
<rect x="356.90" y="127.94" width="3.30" height="18.31" fill="#808080" stroke="#222" stroke-width="1.0"/>
<line x1="362.94999999999993" y1="127.44" x2="362.94999999999993" y2="125.064" stroke="#111" stroke-width="1.25"/>
<line x1="361.54999999999995" y1="125.064" x2="364.3499999999999" y2="125.064" stroke="#111" stroke-width="1.0"/>
<rect x="361.30" y="127.94" width="3.30" height="18.31" fill="#808080" stroke="#222" stroke-width="1.0"/>
<text x="358.44999999999993" y="153.2" font-size="5.2" font-weight="bold" stroke="#000" stroke-width="0.15" text-anchor="middle" fill="#000" style="stroke-width:0.55">+</text>
<text x="363.04999999999995" y="153.5" font-size="5.0" font-weight="bold" stroke="#000" stroke-width="0.15" text-anchor="middle" fill="#000" style="stroke-width:0.3">-</text>
<text x="0" y="0" font-size="6.75" font-weight="bold" stroke="#000" stroke-width="0.15" text-anchor="start" fill="#000" transform="translate(362.0 178.4) rotate(-90) scale(0.97 1)">CNC 3</text>
<line x1="372.0" y1="99.918" x2="372.0" y2="91.99799999999999" stroke="#111" stroke-width="1.25"/>
<line x1="370.6" y1="91.99799999999999" x2="373.4" y2="91.99799999999999" stroke="#111" stroke-width="1.0"/>
<rect x="370.35" y="100.42" width="3.30" height="45.83" fill="#808080" stroke="#222" stroke-width="1.0"/>
<line x1="376.4" y1="119.52" x2="376.4" y2="114.966" stroke="#111" stroke-width="1.25"/>
<line x1="375.0" y1="114.966" x2="377.79999999999995" y2="114.966" stroke="#111" stroke-width="1.0"/>
<rect x="374.75" y="120.02" width="3.30" height="26.23" fill="#808080" stroke="#222" stroke-width="1.0"/>
<text x="371.9" y="153.2" font-size="5.2" font-weight="bold" stroke="#000" stroke-width="0.15" text-anchor="middle" fill="#000" style="stroke-width:0.55">+</text>
<text x="376.5" y="153.5" font-size="5.0" font-weight="bold" stroke="#000" stroke-width="0.15" text-anchor="middle" fill="#000" style="stroke-width:0.3">-</text>
<text x="0" y="0" font-size="6.75" font-weight="bold" stroke="#000" stroke-width="0.15" text-anchor="start" fill="#000" transform="translate(375.45000000000005 178.4) rotate(-90) scale(0.97 1)">CNC 4</text>
<line x1="385.45" y1="124.47" x2="385.45" y2="123.084" stroke="#111" stroke-width="1.25"/>
<line x1="384.05" y1="123.084" x2="386.84999999999997" y2="123.084" stroke="#111" stroke-width="1.0"/>
<rect x="383.80" y="124.97" width="3.30" height="21.28" fill="#808080" stroke="#222" stroke-width="1.0"/>
<line x1="389.84999999999997" y1="128.232" x2="389.84999999999997" y2="126.252" stroke="#111" stroke-width="1.25"/>
<line x1="388.45" y1="126.252" x2="391.24999999999994" y2="126.252" stroke="#111" stroke-width="1.0"/>
<rect x="388.20" y="128.73" width="3.30" height="17.52" fill="#808080" stroke="#222" stroke-width="1.0"/>
<text x="385.34999999999997" y="153.2" font-size="5.2" font-weight="bold" stroke="#000" stroke-width="0.15" text-anchor="middle" fill="#000" style="stroke-width:0.55">+</text>
<text x="389.95" y="153.5" font-size="5.0" font-weight="bold" stroke="#000" stroke-width="0.15" text-anchor="middle" fill="#000" style="stroke-width:0.3">-</text>
<text x="0" y="0" font-size="6.75" font-weight="bold" stroke="#000" stroke-width="0.15" text-anchor="start" fill="#000" transform="translate(388.90000000000003 178.4) rotate(-90) scale(0.97 1)">CNC 5</text>
<line x1="398.9" y1="126.252" x2="398.9" y2="122.49" stroke="#111" stroke-width="1.25"/>
<line x1="397.5" y1="122.49" x2="400.29999999999995" y2="122.49" stroke="#111" stroke-width="1.0"/>
<rect x="397.25" y="126.75" width="3.30" height="19.50" fill="#808080" stroke="#222" stroke-width="1.0"/>
<line x1="403.29999999999995" y1="127.044" x2="403.29999999999995" y2="123.678" stroke="#111" stroke-width="1.25"/>
<line x1="401.9" y1="123.678" x2="404.69999999999993" y2="123.678" stroke="#111" stroke-width="1.0"/>
<rect x="401.65" y="127.54" width="3.30" height="18.71" fill="#808080" stroke="#222" stroke-width="1.0"/>
<text x="398.79999999999995" y="153.2" font-size="5.2" font-weight="bold" stroke="#000" stroke-width="0.15" text-anchor="middle" fill="#000" style="stroke-width:0.55">+</text>
<text x="403.4" y="153.5" font-size="5.0" font-weight="bold" stroke="#000" stroke-width="0.15" text-anchor="middle" fill="#000" style="stroke-width:0.3">-</text>
<text x="0" y="0" font-size="6.75" font-weight="bold" stroke="#000" stroke-width="0.15" text-anchor="start" fill="#000" transform="translate(402.35 178.4) rotate(-90) scale(0.97 1)">CNC 6</text>
<line x1="412.34999999999997" y1="125.262" x2="412.34999999999997" y2="121.5" stroke="#111" stroke-width="1.25"/>
<line x1="410.95" y1="121.5" x2="413.74999999999994" y2="121.5" stroke="#111" stroke-width="1.0"/>
<rect x="410.70" y="125.76" width="3.30" height="20.49" fill="#808080" stroke="#222" stroke-width="1.0"/>
<line x1="416.74999999999994" y1="124.47" x2="416.74999999999994" y2="121.69800000000001" stroke="#111" stroke-width="1.25"/>
<line x1="415.34999999999997" y1="121.69800000000001" x2="418.1499999999999" y2="121.69800000000001" stroke="#111" stroke-width="1.0"/>
<rect x="415.10" y="124.97" width="3.30" height="21.28" fill="#808080" stroke="#222" stroke-width="1.0"/>
<text x="412.24999999999994" y="153.2" font-size="5.2" font-weight="bold" stroke="#000" stroke-width="0.15" text-anchor="middle" fill="#000" style="stroke-width:0.55">+</text>
<text x="416.84999999999997" y="153.5" font-size="5.0" font-weight="bold" stroke="#000" stroke-width="0.15" text-anchor="middle" fill="#000" style="stroke-width:0.3">-</text>
<text x="0" y="0" font-size="6.75" font-weight="bold" stroke="#000" stroke-width="0.15" text-anchor="start" fill="#000" transform="translate(415.8 178.4) rotate(-90) scale(0.97 1)">CNC 7</text>
<line x1="425.79999999999995" y1="130.806" x2="425.79999999999995" y2="130.014" stroke="#111" stroke-width="1.25"/>
<line x1="424.4" y1="130.014" x2="427.19999999999993" y2="130.014" stroke="#111" stroke-width="1.0"/>
<rect x="424.15" y="131.31" width="3.30" height="14.94" fill="#808080" stroke="#222" stroke-width="1.0"/>
<line x1="430.19999999999993" y1="130.014" x2="430.19999999999993" y2="128.034" stroke="#111" stroke-width="1.25"/>
<line x1="428.79999999999995" y1="128.034" x2="431.5999999999999" y2="128.034" stroke="#111" stroke-width="1.0"/>
<rect x="428.55" y="130.51" width="3.30" height="15.74" fill="#808080" stroke="#222" stroke-width="1.0"/>
<text x="425.69999999999993" y="153.2" font-size="5.2" font-weight="bold" stroke="#000" stroke-width="0.15" text-anchor="middle" fill="#000" style="stroke-width:0.55">+</text>
<text x="430.29999999999995" y="153.5" font-size="5.0" font-weight="bold" stroke="#000" stroke-width="0.15" text-anchor="middle" fill="#000" style="stroke-width:0.3">-</text>
<text x="0" y="0" font-size="6.75" font-weight="bold" stroke="#000" stroke-width="0.15" text-anchor="start" fill="#000" transform="translate(429.25 178.4) rotate(-90) scale(0.97 1)">CNC 8</text>
<line x1="439.25" y1="130.014" x2="439.25" y2="128.034" stroke="#111" stroke-width="1.25"/>
<line x1="437.85" y1="128.034" x2="440.65" y2="128.034" stroke="#111" stroke-width="1.0"/>
<rect x="437.60" y="130.51" width="3.30" height="15.74" fill="#808080" stroke="#222" stroke-width="1.0"/>
<line x1="443.65" y1="129.222" x2="443.65" y2="125.46" stroke="#111" stroke-width="1.25"/>
<line x1="442.25" y1="125.46" x2="445.04999999999995" y2="125.46" stroke="#111" stroke-width="1.0"/>
<rect x="442.00" y="129.72" width="3.30" height="16.53" fill="#808080" stroke="#222" stroke-width="1.0"/>
<text x="439.15" y="153.2" font-size="5.2" font-weight="bold" stroke="#000" stroke-width="0.15" text-anchor="middle" fill="#000" style="stroke-width:0.55">+</text>
<text x="443.75" y="153.5" font-size="5.0" font-weight="bold" stroke="#000" stroke-width="0.15" text-anchor="middle" fill="#000" style="stroke-width:0.3">-</text>
<text x="0" y="0" font-size="6.75" font-weight="bold" stroke="#000" stroke-width="0.15" text-anchor="start" fill="#000" transform="translate(442.70000000000005 178.4) rotate(-90) scale(0.97 1)">CNC 9</text>
<rect x="451.05" y="87.35" width="3.30" height="58.90" fill="#808080" stroke="#222" stroke-width="1.0"/>
<rect x="455.45" y="87.35" width="3.30" height="58.90" fill="#808080" stroke="#222" stroke-width="1.0"/>
<text x="452.59999999999997" y="153.2" font-size="5.2" font-weight="bold" stroke="#000" stroke-width="0.15" text-anchor="middle" fill="#000" style="stroke-width:0.55">+</text>
<text x="457.2" y="153.5" font-size="5.0" font-weight="bold" stroke="#000" stroke-width="0.15" text-anchor="middle" fill="#000" style="stroke-width:0.3">-</text>
<text x="0" y="0" font-size="6.75" font-weight="bold" stroke="#000" stroke-width="0.15" text-anchor="start" fill="#000" transform="translate(456.15000000000003 178.4) rotate(-90) scale(0.97 1)">CNC 10</text>
<line x1="466.15" y1="132.588" x2="466.15" y2="131.202" stroke="#111" stroke-width="1.25"/>
<line x1="464.75" y1="131.202" x2="467.54999999999995" y2="131.202" stroke="#111" stroke-width="1.0"/>
<rect x="464.50" y="133.09" width="3.30" height="13.16" fill="#808080" stroke="#222" stroke-width="1.0"/>
<line x1="470.54999999999995" y1="130.014" x2="470.54999999999995" y2="127.044" stroke="#111" stroke-width="1.25"/>
<line x1="469.15" y1="127.044" x2="471.94999999999993" y2="127.044" stroke="#111" stroke-width="1.0"/>
<rect x="468.90" y="130.51" width="3.30" height="15.74" fill="#808080" stroke="#222" stroke-width="1.0"/>
<text x="466.04999999999995" y="153.2" font-size="5.2" font-weight="bold" stroke="#000" stroke-width="0.15" text-anchor="middle" fill="#000" style="stroke-width:0.55">+</text>
<text x="470.65" y="153.5" font-size="5.0" font-weight="bold" stroke="#000" stroke-width="0.15" text-anchor="middle" fill="#000" style="stroke-width:0.3">-</text>
<text x="0" y="0" font-size="6.75" font-weight="bold" stroke="#000" stroke-width="0.15" text-anchor="start" fill="#000" transform="translate(469.6 178.4) rotate(-90) scale(0.97 1)">CNC 11</text>
<rect x="477.95" y="87.35" width="3.30" height="58.90" fill="#808080" stroke="#222" stroke-width="1.0"/>
<rect x="482.35" y="87.35" width="3.30" height="58.90" fill="#808080" stroke="#222" stroke-width="1.0"/>
<text x="479.49999999999994" y="153.2" font-size="5.2" font-weight="bold" stroke="#000" stroke-width="0.15" text-anchor="middle" fill="#000" style="stroke-width:0.55">+</text>
<text x="484.09999999999997" y="153.5" font-size="5.0" font-weight="bold" stroke="#000" stroke-width="0.15" text-anchor="middle" fill="#000" style="stroke-width:0.3">-</text>
<text x="0" y="0" font-size="6.75" font-weight="bold" stroke="#000" stroke-width="0.15" text-anchor="start" fill="#000" transform="translate(483.05 178.4) rotate(-90) scale(0.97 1)">CNC 12</text>
<rect x="491.40" y="87.35" width="3.30" height="58.90" fill="#808080" stroke="#222" stroke-width="1.0"/>
<line x1="497.44999999999993" y1="103.28399999999999" x2="497.44999999999993" y2="102.096" stroke="#111" stroke-width="1.25"/>
<line x1="496.04999999999995" y1="102.096" x2="498.8499999999999" y2="102.096" stroke="#111" stroke-width="1.0"/>
<rect x="495.80" y="103.78" width="3.30" height="42.47" fill="#808080" stroke="#222" stroke-width="1.0"/>
<text x="492.94999999999993" y="153.2" font-size="5.2" font-weight="bold" stroke="#000" stroke-width="0.15" text-anchor="middle" fill="#000" style="stroke-width:0.55">+</text>
<text x="497.54999999999995" y="153.5" font-size="5.0" font-weight="bold" stroke="#000" stroke-width="0.15" text-anchor="middle" fill="#000" style="stroke-width:0.3">-</text>
<text x="0" y="0" font-size="6.75" font-weight="bold" stroke="#000" stroke-width="0.15" text-anchor="start" fill="#000" transform="translate(496.5 178.4) rotate(-90) scale(0.97 1)">CNC 13</text>
<line x1="506.5" y1="122.49" x2="506.5" y2="120.50999999999999" stroke="#111" stroke-width="1.25"/>
<line x1="505.1" y1="120.50999999999999" x2="507.9" y2="120.50999999999999" stroke="#111" stroke-width="1.0"/>
<rect x="504.85" y="122.99" width="3.30" height="23.26" fill="#808080" stroke="#222" stroke-width="1.0"/>
<line x1="510.9" y1="123.678" x2="510.9" y2="118.72800000000001" stroke="#111" stroke-width="1.25"/>
<line x1="509.5" y1="118.72800000000001" x2="512.3" y2="118.72800000000001" stroke="#111" stroke-width="1.0"/>
<rect x="509.25" y="124.18" width="3.30" height="22.07" fill="#808080" stroke="#222" stroke-width="1.0"/>
<text x="506.4" y="153.2" font-size="5.2" font-weight="bold" stroke="#000" stroke-width="0.15" text-anchor="middle" fill="#000" style="stroke-width:0.55">+</text>
<text x="511.0" y="153.5" font-size="5.0" font-weight="bold" stroke="#000" stroke-width="0.15" text-anchor="middle" fill="#000" style="stroke-width:0.3">-</text>
<text x="0" y="0" font-size="6.75" font-weight="bold" stroke="#000" stroke-width="0.15" text-anchor="start" fill="#000" transform="translate(509.95000000000005 178.4) rotate(-90) scale(0.97 1)">CNC 14</text>
<text x="0" y="0" font-size="7.0" font-weight="bold" stroke="#000" stroke-width="0.15" text-anchor="start" fill="#000" transform="translate(320.5 178.4) rotate(-90) scale(0.98 1)">Control</text>
<line x1="315.0" y1="146.25" x2="517" y2="146.25" stroke="#000" stroke-width="1.3"/>
<line x1="315.5" y1="85.9" x2="315.5" y2="146.7" stroke="#000" stroke-width="1.0"/>
<line x1="312.0" y1="146.25" x2="315.5" y2="146.25" stroke="#000" stroke-width="1.0"/>
<text x="0" y="0" font-size="7.0" font-weight="bold" stroke="#000" stroke-width="0.15" text-anchor="end" fill="#000" transform="translate(311.6 148.55) scale(0.9 1)">0</text>
<line x1="312.0" y1="126.45" x2="315.5" y2="126.45" stroke="#000" stroke-width="1.0"/>
<text x="0" y="0" font-size="7.0" font-weight="bold" stroke="#000" stroke-width="0.15" text-anchor="end" fill="#000" transform="translate(311.6 128.75) scale(0.9 1)">1</text>
<line x1="312.0" y1="106.65" x2="315.5" y2="106.65" stroke="#000" stroke-width="1.0"/>
<text x="0" y="0" font-size="7.0" font-weight="bold" stroke="#000" stroke-width="0.15" text-anchor="end" fill="#000" transform="translate(311.6 108.95) scale(0.9 1)">2</text>
<line x1="312.0" y1="86.85" x2="315.5" y2="86.85" stroke="#000" stroke-width="1.0"/>
<text x="0" y="0" font-size="7.0" font-weight="bold" stroke="#000" stroke-width="0.15" text-anchor="end" fill="#000" transform="translate(311.6 89.14999999999999) scale(0.9 1)">3</text>
<line x1="313.0" y1="136.35" x2="315.5" y2="136.35" stroke="#000" stroke-width="0.9"/>
<line x1="313.0" y1="116.55" x2="315.5" y2="116.55" stroke="#000" stroke-width="0.9"/>
<line x1="313.0" y1="96.75" x2="315.5" y2="96.75" stroke="#000" stroke-width="0.9"/>
<line x1="315.5" y1="50.8" x2="315.5" y2="79.3" stroke="#000" stroke-width="1.0"/>
<line x1="312.0" y1="77.6" x2="315.5" y2="77.6" stroke="#000" stroke-width="0.9"/>
<text x="0" y="0" font-size="7.0" font-weight="bold" stroke="#000" stroke-width="0.15" text-anchor="end" fill="#000" transform="translate(311.6 79.89999999999999) scale(0.9 1)">5</text>
<line x1="312.9" y1="71.35" x2="315.5" y2="71.35" stroke="#000" stroke-width="0.9"/>
<line x1="312.0" y1="65.1" x2="315.5" y2="65.1" stroke="#000" stroke-width="0.9"/>
<text x="0" y="0" font-size="7.0" font-weight="bold" stroke="#000" stroke-width="0.15" text-anchor="end" fill="#000" transform="translate(311.6 67.39999999999999) scale(0.9 1)">7</text>
<line x1="312.9" y1="58.849999999999994" x2="315.5" y2="58.849999999999994" stroke="#000" stroke-width="0.9"/>
<line x1="312.0" y1="52.599999999999994" x2="315.5" y2="52.599999999999994" stroke="#000" stroke-width="0.9"/>
<text x="0" y="0" font-size="7.0" font-weight="bold" stroke="#000" stroke-width="0.15" text-anchor="end" fill="#000" transform="translate(311.6 54.89999999999999) scale(0.9 1)">9</text>
<line x1="315.5" y1="11.3" x2="315.5" y2="43.4" stroke="#000" stroke-width="1.0"/>
<line x1="312.0" y1="43.0" x2="315.5" y2="43.0" stroke="#000" stroke-width="1.0"/>
<text x="0" y="0" font-size="7.0" font-weight="bold" stroke="#000" stroke-width="0.15" text-anchor="end" fill="#000" transform="translate(311.6 45.3) scale(0.9 1)">25</text>
<line x1="312.0" y1="27.450000000000003" x2="315.5" y2="27.450000000000003" stroke="#000" stroke-width="1.0"/>
<text x="0" y="0" font-size="7.0" font-weight="bold" stroke="#000" stroke-width="0.15" text-anchor="end" fill="#000" transform="translate(311.6 29.750000000000004) scale(0.9 1)">30</text>
<line x1="312.0" y1="11.900000000000002" x2="315.5" y2="11.900000000000002" stroke="#000" stroke-width="1.0"/>
<text x="0" y="0" font-size="7.0" font-weight="bold" stroke="#000" stroke-width="0.15" text-anchor="end" fill="#000" transform="translate(311.6 14.200000000000003) scale(0.9 1)">35</text>
<text x="0" y="0" font-size="6.91" font-weight="bold" stroke="#000" stroke-width="0.15" text-anchor="middle" fill="#000" transform="translate(301.7 85.8) rotate(-90) scale(0.9 1)">Relative luciferase activity</text>
<line x1="452.7" y1="71.2" x2="452.7" y2="66" stroke="#111" stroke-width="1.25"/>
<line x1="451.3" y1="66" x2="454.09999999999997" y2="66" stroke="#111" stroke-width="1.0"/>
<rect x="450.95" y="71.60" width="3.50" height="9.00" fill="#808080" stroke="#222" stroke-width="0.8"/>
<rect x="455.35" y="49.50" width="3.50" height="31.10" fill="#808080" stroke="#222" stroke-width="0.8"/>
<line x1="457.09999999999997" y1="37.5" x2="457.09999999999997" y2="18.8" stroke="#111" stroke-width="1.25"/>
<line x1="455.7" y1="18.8" x2="458.49999999999994" y2="18.8" stroke="#111" stroke-width="1.0"/>
<rect x="455.35" y="37.90" width="3.50" height="5.90" fill="#808080" stroke="#222" stroke-width="0.8"/>
<line x1="479.59999999999997" y1="70.5" x2="479.59999999999997" y2="57.5" stroke="#111" stroke-width="1.25"/>
<line x1="478.2" y1="57.5" x2="480.99999999999994" y2="57.5" stroke="#111" stroke-width="1.0"/>
<rect x="477.85" y="70.90" width="3.50" height="9.70" fill="#808080" stroke="#222" stroke-width="0.8"/>
<line x1="483.99999999999994" y1="79.3" x2="483.99999999999994" y2="68" stroke="#111" stroke-width="1.25"/>
<line x1="482.59999999999997" y1="68" x2="485.3999999999999" y2="68" stroke="#111" stroke-width="1.0"/>
<rect x="482.25" y="79.70" width="3.50" height="0.90" fill="#808080" stroke="#222" stroke-width="0.8"/>
<line x1="493.04999999999995" y1="68.8" x2="493.04999999999995" y2="61.3" stroke="#111" stroke-width="1.25"/>
<line x1="491.65" y1="61.3" x2="494.44999999999993" y2="61.3" stroke="#111" stroke-width="1.0"/>
<rect x="491.30" y="69.20" width="3.50" height="11.40" fill="#808080" stroke="#222" stroke-width="0.8"/>
<line x1="450.25" y1="81" x2="459.55" y2="81" stroke="#111" stroke-width="1.2"/>
<line x1="450.25" y1="85.6" x2="459.55" y2="85.6" stroke="#111" stroke-width="1.2"/>
<line x1="477.15" y1="81" x2="486.45" y2="81" stroke="#111" stroke-width="1.2"/>
<line x1="477.15" y1="85.6" x2="486.45" y2="85.6" stroke="#111" stroke-width="1.2"/>
<line x1="490.59999999999997" y1="81" x2="495.5" y2="81" stroke="#111" stroke-width="1.2"/>
<line x1="490.59999999999997" y1="85.6" x2="495.5" y2="85.6" stroke="#111" stroke-width="1.2"/>
<text x="0" y="0" font-size="6.78" font-weight="bold" stroke="#000" stroke-width="0.15" text-anchor="middle" fill="#000" transform="translate(345.1 117.55) scale(0.9 1)">*</text>
<text x="0" y="0" font-size="6.78" font-weight="bold" stroke="#000" stroke-width="0.15" text-anchor="middle" fill="#000" transform="translate(372 92.55) scale(0.9 1)">**</text>
<text x="0" y="0" font-size="6.78" font-weight="bold" stroke="#000" stroke-width="0.15" text-anchor="middle" fill="#000" transform="translate(449.2 65.55) scale(0.9 1)">***</text>
<text x="0" y="0" font-size="6.78" font-weight="bold" stroke="#000" stroke-width="0.15" text-anchor="middle" fill="#000" transform="translate(457.1 17.55) scale(0.9 1)">**</text>
<text x="0" y="0" font-size="6.78" font-weight="bold" stroke="#000" stroke-width="0.15" text-anchor="middle" fill="#000" transform="translate(465.6 130.55) scale(0.9 1)">***</text>
<text x="0" y="0" font-size="6.78" font-weight="bold" stroke="#000" stroke-width="0.15" text-anchor="middle" fill="#000" transform="translate(479.4 55.85) scale(0.9 1)">**</text>
<text x="0" y="0" font-size="6.78" font-weight="bold" stroke="#000" stroke-width="0.15" text-anchor="middle" fill="#000" transform="translate(483.8 67.05) scale(0.9 1)">*</text>
<text x="0" y="0" font-size="6.78" font-weight="bold" stroke="#000" stroke-width="0.15" text-anchor="middle" fill="#000" transform="translate(492.8 60.25) scale(0.9 1)">**</text>
<text x="0" y="0" font-size="6.78" font-weight="bold" stroke="#000" stroke-width="0.15" text-anchor="middle" fill="#000" transform="translate(499.6 101.8) scale(0.9 1)">***</text>
<text x="0" y="0" font-size="6.78" font-weight="bold" stroke="#000" stroke-width="0.15" text-anchor="middle" fill="#000" transform="translate(506.5 120.55) scale(0.9 1)">*</text>
<text x="0" y="0" font-size="6.78" font-weight="bold" stroke="#000" stroke-width="0.15" text-anchor="middle" fill="#000" transform="translate(510.9 121.8) scale(0.9 1)">*</text>
<line x1="454.75" y1="43.7" x2="459.45" y2="43.7" stroke="#111" stroke-width="1.2"/>
<line x1="454.75" y1="49.3" x2="459.45" y2="49.3" stroke="#111" stroke-width="1.2"/>
</g>
</svg>
</body></html>
